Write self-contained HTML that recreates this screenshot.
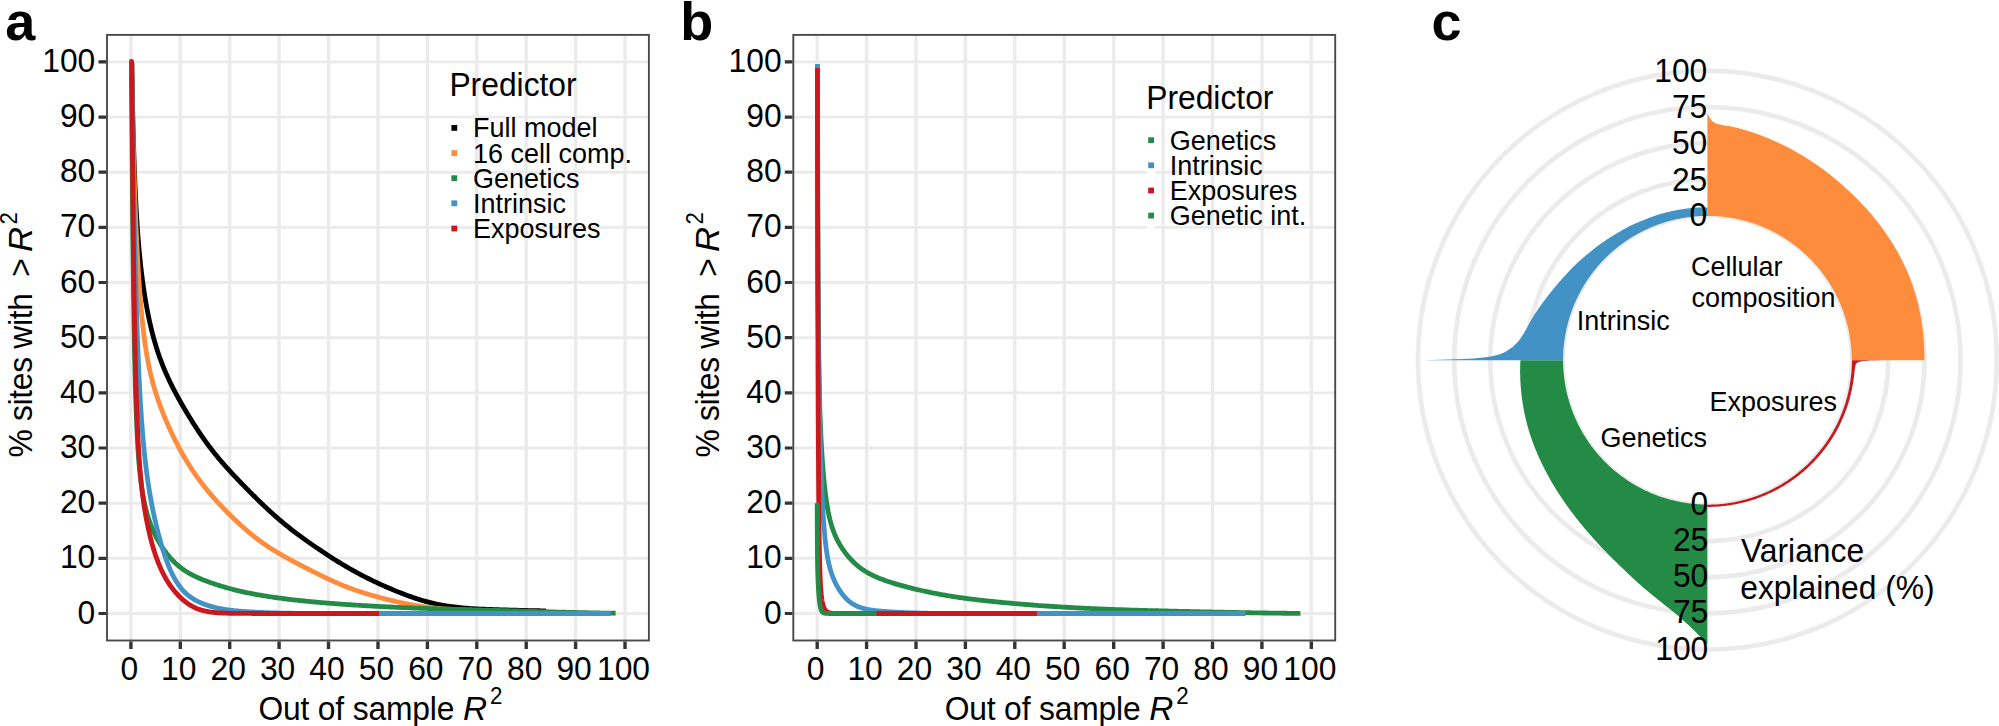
<!DOCTYPE html>
<html lang="en">
<head>
<meta charset="utf-8">
<title>Figure</title>
<style>
html,body{margin:0;padding:0;background:#fff;}
body{width:1999px;height:726px;overflow:hidden;}
svg{display:block;font-family:'Liberation Sans', Arial, Helvetica, sans-serif;}
</style>
</head>
<body>
<svg width="1999" height="726" viewBox="0 0 1999 726">
<rect width="1999" height="726" fill="#fff"/>
<!-- panel a -->
<rect x="107.0" y="34.9" width="541.9" height="605.6" fill="#fff"/>
<path d="M107.0,613.5 H648.9 M107.0,558.3 H648.9 M107.0,503.2 H648.9 M107.0,448.0 H648.9 M107.0,392.9 H648.9 M107.0,337.7 H648.9 M107.0,282.5 H648.9 M107.0,227.4 H648.9 M107.0,172.2 H648.9 M107.0,117.1 H648.9 M107.0,61.9 H648.9" stroke="#EBEBEB" stroke-width="2.9" fill="none"/>
<path d="M130.9,34.9 V640.5 M180.3,34.9 V640.5 M229.7,34.9 V640.5 M279.1,34.9 V640.5 M328.5,34.9 V640.5 M378.0,34.9 V640.5 M427.4,34.9 V640.5 M476.8,34.9 V640.5 M526.2,34.9 V640.5 M575.6,34.9 V640.5 M625.0,34.9 V640.5" stroke="#EBEBEB" stroke-width="3.4" fill="none"/>
<g fill="none" stroke-width="4.8" stroke-linejoin="round" stroke-linecap="butt">
<path d="M129.7,61.9 L131.64,61.90 L131.71,63.68 L131.71,64.11 L131.72,64.57 L131.73,65.06 L131.74,65.58 L131.75,66.14 L131.76,66.74 L131.77,67.36 L131.78,68.03 L131.80,68.73 L131.81,69.46 L131.82,70.24 L131.84,71.05 L131.85,71.90 L131.87,72.79 L131.89,73.72 L131.91,74.69 L131.93,75.70 L131.94,76.75 L131.97,77.84 L131.99,78.97 L132.01,80.15 L132.03,81.37 L132.06,82.62 L132.08,83.92 L132.11,85.26 L132.14,86.64 L132.17,88.07 L132.20,89.53 L132.23,91.03 L132.26,92.58 L132.29,94.16 L132.33,95.78 L132.36,97.45 L132.40,99.15 L132.44,100.88 L132.47,102.66 L132.52,104.47 L132.56,106.31 L132.60,108.19 L132.64,110.10 L132.69,112.05 L132.74,114.02 L132.78,116.03 L132.83,118.07 L132.89,120.13 L132.94,122.22 L132.99,124.34 L133.05,126.48 L133.10,128.65 L133.16,130.84 L133.22,133.05 L133.29,135.27 L133.35,137.52 L133.41,139.78 L133.48,142.06 L133.55,144.36 L133.62,146.66 L133.69,148.98 L133.76,151.31 L133.84,153.64 L133.91,155.99 L133.99,158.34 L134.07,160.69 L134.15,163.05 L134.24,165.41 L134.32,167.77 L134.41,170.13 L134.50,172.49 L134.59,174.85 L134.68,177.21 L134.78,179.56 L134.88,181.90 L134.98,184.24 L135.08,186.57 L135.18,188.89 L135.28,191.20 L135.39,193.50 L135.50,195.79 L135.61,198.07 L135.73,200.34 L135.84,202.59 L135.96,204.83 L136.08,207.06 L136.20,209.27 L136.33,211.47 L136.45,213.65 L136.58,215.82 L136.71,217.97 L136.85,220.10 L136.98,222.22 L137.12,224.32 L137.26,226.40 L137.40,228.47 L137.55,230.52 L137.70,232.55 L137.85,234.57 L138.00,236.57 L138.15,238.55 L138.31,240.52 L138.47,242.47 L138.63,244.40 L138.80,246.32 L138.97,248.22 L139.14,250.11 L139.31,251.98 L139.49,253.83 L139.66,255.68 L139.84,257.50 L140.03,259.31 L140.22,261.11 L140.40,262.89 L140.60,264.66 L140.79,266.42 L140.99,268.16 L141.19,269.89 L141.39,271.61 L141.60,273.32 L141.81,275.01 L142.02,276.69 L142.23,278.36 L142.45,280.02 L142.67,281.67 L142.89,283.31 L143.12,284.93 L143.35,286.55 L143.58,288.15 L143.82,289.75 L144.06,291.34 L144.30,292.91 L144.54,294.48 L144.79,296.03 L145.04,297.58 L145.30,299.12 L145.56,300.65 L145.82,302.17 L146.08,303.68 L146.35,305.18 L146.62,306.67 L146.89,308.16 L147.17,309.63 L147.45,311.10 L147.74,312.55 L148.02,314.00 L148.31,315.44 L148.61,316.87 L148.91,318.29 L149.21,319.71 L149.51,321.11 L149.82,322.50 L150.13,323.89 L150.45,325.27 L150.77,326.64 L151.09,328.00 L151.41,329.35 L151.74,330.69 L152.08,332.03 L152.41,333.35 L152.75,334.67 L153.10,335.97 L153.45,337.27 L153.80,338.56 L154.15,339.84 L154.51,341.12 L154.87,342.38 L155.24,343.64 L155.61,344.88 L155.99,346.12 L156.37,347.35 L156.75,348.58 L157.13,349.79 L157.52,351.00 L157.92,352.20 L158.32,353.39 L158.72,354.57 L159.12,355.75 L159.53,356.92 L159.95,358.08 L160.37,359.23 L160.79,360.38 L161.22,361.52 L161.65,362.65 L162.08,363.78 L162.52,364.91 L162.96,366.02 L163.41,367.13 L163.86,368.24 L164.32,369.34 L164.78,370.43 L165.24,371.53 L165.71,372.61 L166.19,373.69 L166.66,374.77 L167.15,375.85 L167.63,376.92 L168.12,377.99 L168.62,379.05 L169.12,380.11 L169.62,381.17 L170.13,382.23 L170.64,383.29 L171.16,384.34 L171.68,385.39 L172.21,386.44 L172.74,387.49 L173.28,388.54 L173.82,389.59 L174.36,390.64 L174.91,391.69 L175.47,392.74 L176.03,393.79 L176.59,394.84 L177.16,395.89 L177.74,396.94 L178.31,397.99 L178.90,399.04 L179.49,400.10 L180.08,401.16 L180.68,402.21 L181.28,403.27 L181.89,404.34 L182.50,405.40 L183.12,406.47 L183.74,407.54 L184.37,408.61 L185.00,409.68 L185.64,410.76 L186.28,411.84 L186.93,412.92 L187.58,414.00 L188.24,415.09 L188.90,416.17 L189.57,417.26 L190.25,418.36 L190.93,419.45 L191.61,420.55 L192.30,421.65 L192.99,422.75 L193.69,423.85 L194.40,424.95 L195.11,426.06 L195.82,427.16 L196.55,428.27 L197.27,429.38 L198.00,430.49 L198.74,431.59 L199.48,432.70 L200.23,433.81 L200.99,434.92 L201.75,436.02 L202.51,437.13 L203.28,438.23 L204.06,439.33 L204.84,440.43 L205.62,441.53 L206.42,442.63 L207.22,443.72 L208.02,444.81 L208.83,445.90 L209.64,446.99 L210.47,448.07 L211.29,449.15 L212.13,450.22 L212.96,451.30 L213.81,452.37 L214.66,453.43 L215.51,454.49 L216.38,455.55 L217.24,456.61 L218.12,457.67 L219.00,458.72 L219.88,459.77 L220.77,460.81 L221.67,461.86 L222.57,462.90 L223.48,463.94 L224.40,464.98 L225.32,466.02 L226.25,467.06 L227.18,468.10 L228.12,469.14 L229.07,470.18 L230.02,471.21 L230.98,472.25 L231.94,473.30 L232.91,474.34 L233.89,475.38 L234.87,476.43 L235.86,477.47 L236.86,478.52 L237.86,479.57 L238.87,480.63 L239.88,481.69 L240.90,482.74 L241.93,483.81 L242.96,484.87 L244.00,485.94 L245.05,487.01 L246.10,488.09 L247.16,489.16 L248.23,490.25 L249.30,491.33 L250.38,492.42 L251.47,493.51 L252.56,494.60 L253.66,495.69 L254.77,496.79 L255.88,497.89 L257.00,498.99 L258.12,500.09 L259.26,501.20 L260.40,502.30 L261.54,503.41 L262.70,504.51 L263.86,505.62 L265.02,506.73 L266.20,507.83 L267.38,508.93 L268.56,510.04 L269.76,511.14 L270.96,512.24 L272.17,513.33 L273.38,514.42 L274.60,515.51 L275.83,516.60 L277.07,517.68 L278.31,518.76 L279.56,519.83 L280.82,520.90 L282.08,521.96 L283.35,523.02 L284.63,524.08 L285.92,525.13 L287.21,526.17 L288.51,527.21 L289.82,528.25 L291.13,529.28 L292.45,530.31 L293.78,531.33 L295.12,532.35 L296.46,533.37 L297.81,534.38 L299.17,535.39 L300.54,536.40 L301.91,537.40 L303.29,538.41 L304.68,539.41 L306.08,540.41 L307.48,541.41 L308.89,542.40 L310.31,543.40 L311.73,544.39 L313.17,545.39 L314.61,546.38 L316.05,547.37 L317.51,548.36 L318.97,549.35 L320.44,550.34 L321.92,551.33 L323.41,552.32 L324.90,553.30 L326.41,554.29 L327.92,555.27 L329.43,556.25 L330.96,557.23 L332.49,558.21 L334.03,559.18 L335.58,560.16 L337.14,561.12 L338.70,562.09 L340.28,563.05 L341.86,564.00 L343.45,564.96 L345.04,565.90 L346.65,566.84 L348.26,567.78 L349.88,568.71 L351.51,569.63 L353.15,570.55 L354.79,571.46 L356.44,572.36 L358.10,573.26 L359.77,574.15 L361.45,575.04 L363.14,575.91 L364.83,576.78 L366.53,577.65 L368.24,578.51 L369.96,579.36 L371.69,580.20 L373.42,581.04 L375.17,581.87 L376.92,582.69 L378.68,583.51 L380.45,584.33 L382.23,585.13 L384.01,585.93 L385.81,586.73 L387.61,587.52 L389.42,588.30 L391.24,589.07 L393.07,589.84 L394.90,590.60 L396.75,591.35 L398.60,592.10 L400.46,592.84 L402.34,593.57 L404.22,594.28 L406.10,594.99 L408.00,595.69 L409.91,596.38 L411.82,597.05 L413.75,597.71 L415.68,598.35 L417.62,598.99 L419.57,599.60 L421.53,600.20 L423.49,600.78 L425.47,601.34 L427.46,601.88 L429.45,602.40 L431.45,602.90 L433.47,603.38 L435.49,603.84 L437.52,604.28 L439.56,604.69 L441.60,605.08 L443.66,605.45 L445.73,605.80 L447.80,606.13 L449.89,606.44 L451.98,606.72 L454.09,606.99 L456.20,607.24 L458.32,607.47 L460.45,607.68 L462.59,607.88 L464.74,608.06 L466.90,608.23 L469.06,608.39 L471.24,608.54 L473.43,608.68 L475.62,608.81 L477.83,608.93 L480.04,609.04 L482.27,609.14 L484.50,609.24 L486.74,609.34 L488.99,609.43 L491.26,609.52 L493.53,609.60 L495.81,609.68 L498.10,609.75 L500.40,609.82 L502.71,609.89 L505.03,609.96 L507.36,610.02 L509.69,610.09 L512.04,610.15 L514.40,610.21 L516.77,610.27 L519.14,610.32 L521.53,610.38 L523.93,610.43 L526.34,610.49 L528.75,610.54 L531.18,610.59 L533.61,610.64 L536.06,610.69 L538.52,610.74 L540.98,610.79 L543.46,610.83 L545.94,610.88" stroke="#000000"/>
<path d="M129.7,61.9 L131.64,61.90 L131.69,63.89 L131.70,64.34 L131.70,64.82 L131.71,65.34 L131.72,65.89 L131.72,66.48 L131.73,67.10 L131.74,67.76 L131.75,68.46 L131.76,69.19 L131.77,69.96 L131.78,70.77 L131.79,71.62 L131.81,72.50 L131.82,73.43 L131.83,74.39 L131.85,75.39 L131.86,76.43 L131.88,77.51 L131.89,78.63 L131.91,79.79 L131.93,80.98 L131.95,82.21 L131.97,83.48 L131.99,84.79 L132.01,86.14 L132.03,87.52 L132.05,88.93 L132.08,90.38 L132.10,91.87 L132.13,93.38 L132.16,94.93 L132.18,96.52 L132.21,98.13 L132.24,99.78 L132.27,101.46 L132.30,103.16 L132.34,104.90 L132.37,106.66 L132.40,108.45 L132.44,110.27 L132.48,112.11 L132.51,113.98 L132.55,115.88 L132.59,117.80 L132.64,119.74 L132.68,121.70 L132.72,123.69 L132.77,125.70 L132.81,127.73 L132.86,129.79 L132.91,131.86 L132.96,133.96 L133.01,136.07 L133.06,138.21 L133.12,140.36 L133.17,142.53 L133.23,144.73 L133.29,146.94 L133.35,149.17 L133.41,151.41 L133.47,153.68 L133.53,155.96 L133.60,158.26 L133.67,160.58 L133.73,162.91 L133.80,165.26 L133.88,167.62 L133.95,170.00 L134.02,172.40 L134.10,174.81 L134.18,177.24 L134.26,179.67 L134.34,182.13 L134.42,184.59 L134.50,187.07 L134.59,189.56 L134.68,192.06 L134.77,194.57 L134.86,197.09 L134.95,199.62 L135.04,202.16 L135.14,204.71 L135.24,207.26 L135.34,209.82 L135.44,212.39 L135.54,214.96 L135.65,217.53 L135.76,220.11 L135.87,222.68 L135.98,225.26 L136.09,227.84 L136.20,230.42 L136.32,233.00 L136.44,235.58 L136.56,238.15 L136.68,240.72 L136.81,243.28 L136.94,245.84 L137.07,248.38 L137.20,250.93 L137.33,253.46 L137.47,255.98 L137.60,258.49 L137.74,261.00 L137.89,263.48 L138.03,265.96 L138.18,268.42 L138.32,270.87 L138.48,273.30 L138.63,275.72 L138.78,278.12 L138.94,280.50 L139.10,282.87 L139.26,285.22 L139.43,287.54 L139.59,289.85 L139.76,292.14 L139.94,294.41 L140.11,296.65 L140.29,298.88 L140.46,301.08 L140.65,303.26 L140.83,305.42 L141.02,307.55 L141.20,309.66 L141.40,311.75 L141.59,313.82 L141.79,315.86 L141.98,317.87 L142.19,319.87 L142.39,321.83 L142.60,323.78 L142.81,325.70 L143.02,327.60 L143.23,329.47 L143.45,331.31 L143.67,333.14 L143.89,334.94 L144.12,336.72 L144.35,338.47 L144.58,340.20 L144.81,341.90 L145.05,343.59 L145.29,345.25 L145.53,346.89 L145.78,348.50 L146.02,350.10 L146.27,351.67 L146.53,353.22 L146.78,354.75 L147.04,356.26 L147.31,357.75 L147.57,359.22 L147.84,360.68 L148.11,362.11 L148.39,363.53 L148.66,364.92 L148.94,366.31 L149.23,367.67 L149.52,369.02 L149.80,370.35 L150.10,371.67 L150.39,372.97 L150.69,374.25 L151.00,375.53 L151.30,376.79 L151.61,378.04 L151.92,379.27 L152.24,380.49 L152.56,381.71 L152.88,382.91 L153.20,384.10 L153.53,385.28 L153.86,386.45 L154.20,387.61 L154.54,388.76 L154.88,389.91 L155.22,391.05 L155.57,392.18 L155.92,393.30 L156.28,394.42 L156.64,395.53 L157.00,396.63 L157.37,397.73 L157.73,398.83 L158.11,399.92 L158.48,401.01 L158.86,402.09 L159.25,403.17 L159.63,404.24 L160.02,405.32 L160.42,406.39 L160.82,407.45 L161.22,408.52 L161.62,409.58 L162.03,410.64 L162.44,411.70 L162.86,412.76 L163.28,413.82 L163.70,414.87 L164.13,415.93 L164.56,416.98 L165.00,418.04 L165.44,419.09 L165.88,420.14 L166.33,421.19 L166.78,422.25 L167.23,423.30 L167.69,424.35 L168.15,425.40 L168.62,426.45 L169.09,427.50 L169.56,428.55 L170.04,429.60 L170.52,430.65 L171.01,431.70 L171.50,432.74 L171.99,433.79 L172.49,434.84 L172.99,435.89 L173.50,436.93 L174.01,437.98 L174.52,439.02 L175.04,440.07 L175.57,441.11 L176.09,442.15 L176.62,443.19 L177.16,444.23 L177.70,445.26 L178.24,446.30 L178.79,447.33 L179.34,448.37 L179.90,449.40 L180.46,450.42 L181.03,451.45 L181.60,452.48 L182.17,453.50 L182.75,454.52 L183.33,455.53 L183.92,456.55 L184.51,457.56 L185.11,458.57 L185.71,459.58 L186.31,460.58 L186.92,461.59 L187.54,462.59 L188.16,463.58 L188.78,464.58 L189.41,465.57 L190.04,466.56 L190.68,467.54 L191.32,468.52 L191.97,469.50 L192.62,470.48 L193.27,471.45 L193.93,472.42 L194.60,473.39 L195.27,474.36 L195.94,475.32 L196.62,476.28 L197.30,477.24 L197.99,478.19 L198.69,479.14 L199.39,480.09 L200.09,481.04 L200.80,481.98 L201.51,482.92 L202.23,483.86 L202.95,484.79 L203.68,485.73 L204.41,486.66 L205.15,487.59 L205.89,488.51 L206.64,489.44 L207.39,490.36 L208.15,491.27 L208.91,492.19 L209.68,493.11 L210.45,494.02 L211.23,494.93 L212.01,495.84 L212.80,496.74 L213.59,497.65 L214.39,498.55 L215.19,499.45 L216.00,500.35 L216.82,501.25 L217.64,502.15 L218.46,503.04 L219.29,503.94 L220.12,504.83 L220.96,505.72 L221.81,506.62 L222.66,507.51 L223.52,508.40 L224.38,509.29 L225.24,510.17 L226.12,511.06 L226.99,511.95 L227.88,512.84 L228.76,513.72 L229.66,514.61 L230.56,515.50 L231.46,516.38 L232.37,517.26 L233.29,518.15 L234.21,519.03 L235.14,519.91 L236.07,520.80 L237.01,521.68 L237.95,522.56 L238.90,523.43 L239.85,524.31 L240.81,525.18 L241.78,526.06 L242.75,526.93 L243.73,527.80 L244.71,528.66 L245.70,529.52 L246.70,530.38 L247.70,531.24 L248.70,532.09 L249.72,532.94 L250.73,533.78 L251.76,534.62 L252.79,535.45 L253.82,536.28 L254.86,537.10 L255.91,537.92 L256.96,538.73 L258.02,539.53 L259.09,540.33 L260.16,541.12 L261.24,541.90 L262.32,542.68 L263.41,543.45 L264.50,544.22 L265.60,544.97 L266.71,545.72 L267.82,546.47 L268.94,547.20 L270.07,547.93 L271.20,548.66 L272.34,549.38 L273.48,550.09 L274.63,550.80 L275.79,551.50 L276.95,552.20 L278.12,552.89 L279.29,553.58 L280.48,554.27 L281.66,554.95 L282.86,555.63 L284.06,556.31 L285.26,556.98 L286.48,557.66 L287.70,558.33 L288.92,559.00 L290.15,559.67 L291.39,560.34 L292.64,561.01 L293.89,561.68 L295.15,562.35 L296.41,563.02 L297.68,563.69 L298.96,564.36 L300.24,565.03 L301.53,565.70 L302.83,566.37 L304.13,567.05 L305.44,567.72 L306.76,568.40 L308.08,569.07 L309.41,569.75 L310.75,570.43 L312.09,571.11 L313.44,571.79 L314.80,572.47 L316.16,573.15 L317.53,573.83 L318.91,574.51 L320.29,575.19 L321.68,575.86 L323.08,576.54 L324.48,577.22 L325.90,577.89 L327.31,578.56 L328.74,579.23 L330.17,579.89 L331.61,580.55 L333.05,581.21 L334.51,581.86 L335.97,582.50 L337.43,583.14 L338.91,583.77 L340.39,584.40 L341.87,585.02 L343.37,585.63 L344.87,586.23 L346.38,586.83 L347.89,587.41 L349.42,587.99 L350.95,588.56 L352.48,589.12 L354.03,589.68 L355.58,590.22 L357.14,590.76 L358.71,591.29 L360.28,591.81 L361.86,592.32 L363.45,592.83 L365.04,593.33 L366.64,593.82 L368.25,594.30 L369.87,594.78 L371.49,595.25 L373.13,595.72 L374.77,596.18 L376.41,596.64 L378.07,597.09 L379.73,597.53 L381.40,597.97 L383.07,598.41 L384.76,598.84 L386.45,599.27 L388.15,599.69 L389.85,600.10 L391.57,600.52 L393.29,600.92 L395.02,601.32 L396.75,601.72 L398.50,602.10 L400.25,602.49 L402.01,602.86 L403.77,603.23 L405.55,603.59 L407.33,603.94 L409.12,604.29 L410.92,604.63 L412.73,604.95 L414.54,605.27 L416.36,605.58 L418.19,605.88 L420.03,606.17 L421.87,606.45 L423.72,606.71 L425.58,606.97 L427.45,607.22 L429.33,607.45 L431.21,607.68 L433.10,607.89 L435.00,608.09 L436.91,608.29 L438.83,608.47 L440.75,608.64 L442.68,608.80 L444.62,608.95 L446.57,609.10 L448.53,609.23 L450.49,609.36 L452.46,609.47 L454.45,609.58 L456.43,609.68 L458.43,609.78 L460.44,609.87 L462.45,609.95 L464.47,610.03 L466.50,610.10 L468.54,610.17 L470.58,610.24 L472.64,610.29 L474.70,610.35 L476.77,610.40" stroke="#FD8D3C"/>
<path d="M129.7,61.9 L131.39,61.90 L131.55,64.06 L131.56,66.40 L131.58,68.87 L131.59,71.46 L131.61,74.17 L131.63,77.01 L131.64,79.97 L131.66,83.07 L131.68,86.28 L131.70,89.63 L131.73,93.10 L131.75,96.70 L131.77,100.43 L131.80,104.27 L131.83,108.24 L131.85,112.34 L131.88,116.55 L131.91,120.88 L131.94,125.32 L131.97,129.87 L132.01,134.54 L132.04,139.31 L132.08,144.18 L132.12,149.15 L132.15,154.22 L132.19,159.37 L132.24,164.61 L132.28,169.94 L132.32,175.34 L132.37,180.81 L132.42,186.35 L132.46,191.94 L132.51,197.60 L132.57,203.31 L132.62,209.06 L132.67,214.84 L132.73,220.67 L132.79,226.52 L132.85,232.39 L132.91,238.27 L132.97,244.17 L133.04,250.06 L133.10,255.96 L133.17,261.84 L133.24,267.71 L133.32,273.57 L133.39,279.39 L133.47,285.19 L133.54,290.94 L133.62,296.66 L133.70,302.33 L133.79,307.94 L133.87,313.50 L133.96,319.00 L134.05,324.44 L134.14,329.80 L134.24,335.09 L134.33,340.31 L134.43,345.44 L134.53,350.49 L134.63,355.46 L134.74,360.34 L134.84,365.12 L134.95,369.82 L135.06,374.42 L135.18,378.92 L135.29,383.33 L135.41,387.64 L135.53,391.86 L135.65,395.97 L135.78,399.99 L135.91,403.90 L136.04,407.72 L136.17,411.44 L136.30,415.06 L136.44,418.59 L136.58,422.02 L136.72,425.35 L136.87,428.60 L137.02,431.75 L137.17,434.81 L137.32,437.79 L137.48,440.68 L137.64,443.49 L137.80,446.21 L137.96,448.86 L138.13,451.43 L138.30,453.92 L138.47,456.34 L138.65,458.69 L138.82,460.98 L139.01,463.19 L139.19,465.35 L139.38,467.44 L139.57,469.47 L139.76,471.45 L139.96,473.38 L140.16,475.25 L140.36,477.07 L140.56,478.84 L140.77,480.57 L140.98,482.26 L141.20,483.90 L141.41,485.50 L141.64,487.07 L141.86,488.60 L142.09,490.09 L142.32,491.55 L142.55,492.98 L142.79,494.38 L143.03,495.74 L143.27,497.09 L143.52,498.40 L143.77,499.69 L144.03,500.95 L144.29,502.20 L144.55,503.41 L144.81,504.61 L145.08,505.79 L145.35,506.95 L145.63,508.09 L145.91,509.21 L146.19,510.31 L146.48,511.40 L146.77,512.47 L147.06,513.52 L147.36,514.56 L147.66,515.58 L147.96,516.59 L148.27,517.59 L148.58,518.58 L148.90,519.55 L149.22,520.51 L149.54,521.45 L149.87,522.39 L150.20,523.31 L150.54,524.23 L150.88,525.13 L151.22,526.02 L151.57,526.90 L151.92,527.78 L152.28,528.64 L152.64,529.49 L153.00,530.34 L153.37,531.18 L153.75,532.00 L154.12,532.82 L154.50,533.64 L154.89,534.44 L155.28,535.24 L155.67,536.03 L156.07,536.81 L156.47,537.59 L156.88,538.36 L157.29,539.12 L157.70,539.88 L158.12,540.63 L158.55,541.38 L158.98,542.11 L159.41,542.85 L159.85,543.58 L160.29,544.30 L160.74,545.01 L161.19,545.73 L161.64,546.43 L162.11,547.13 L162.57,547.83 L163.04,548.52 L163.52,549.21 L163.99,549.89 L164.48,550.56 L164.97,551.23 L165.46,551.90 L165.96,552.56 L166.46,553.21 L166.97,553.86 L167.48,554.50 L168.00,555.14 L168.53,555.78 L169.05,556.40 L169.59,557.02 L170.12,557.64 L170.67,558.25 L171.22,558.86 L171.77,559.45 L172.33,560.05 L172.89,560.63 L173.46,561.21 L174.03,561.78 L174.61,562.35 L175.20,562.91 L175.78,563.46 L176.38,564.01 L176.98,564.55 L177.58,565.08 L178.19,565.60 L178.81,566.12 L179.43,566.63 L180.06,567.13 L180.69,567.63 L181.33,568.12 L181.97,568.60 L182.62,569.07 L183.27,569.54 L183.93,570.00 L184.60,570.45 L185.27,570.89 L185.94,571.33 L186.63,571.76 L187.31,572.19 L188.01,572.60 L188.71,573.01 L189.41,573.42 L190.12,573.82 L190.84,574.21 L191.56,574.60 L192.29,574.98 L193.02,575.35 L193.76,575.72 L194.50,576.09 L195.26,576.45 L196.01,576.81 L196.78,577.16 L197.55,577.51 L198.32,577.85 L199.10,578.19 L199.89,578.53 L200.68,578.86 L201.48,579.19 L202.29,579.52 L203.10,579.85 L203.92,580.17 L204.74,580.49 L205.57,580.81 L206.41,581.12 L207.25,581.44 L208.10,581.75 L208.96,582.06 L209.82,582.37 L210.69,582.67 L211.56,582.98 L212.44,583.28 L213.33,583.58 L214.22,583.88 L215.12,584.18 L216.03,584.48 L216.94,584.78 L217.86,585.07 L218.79,585.37 L219.72,585.66 L220.66,585.95 L221.61,586.24 L222.56,586.53 L223.52,586.81 L224.49,587.10 L225.46,587.38 L226.44,587.66 L227.43,587.94 L228.42,588.22 L229.42,588.49 L230.43,588.76 L231.44,589.03 L232.46,589.30 L233.49,589.56 L234.52,589.83 L235.57,590.09 L236.62,590.35 L237.67,590.60 L238.73,590.85 L239.80,591.10 L240.88,591.35 L241.96,591.59 L243.06,591.84 L244.15,592.07 L245.26,592.31 L246.37,592.55 L247.49,592.78 L248.62,593.01 L249.75,593.23 L250.90,593.46 L252.04,593.68 L253.20,593.90 L254.36,594.11 L255.54,594.33 L256.71,594.54 L257.90,594.75 L259.09,594.96 L260.29,595.17 L261.50,595.37 L262.72,595.58 L263.94,595.78 L265.17,595.98 L266.41,596.17 L267.66,596.37 L268.91,596.56 L270.17,596.75 L271.44,596.94 L272.72,597.13 L274.01,597.32 L275.30,597.50 L276.60,597.69 L277.91,597.87 L279.22,598.05 L280.55,598.23 L281.88,598.40 L283.22,598.58 L284.56,598.75 L285.92,598.92 L287.28,599.09 L288.66,599.26 L290.03,599.43 L291.42,599.59 L292.82,599.76 L294.22,599.92 L295.63,600.08 L297.05,600.24 L298.48,600.39 L299.92,600.55 L301.36,600.70 L302.81,600.85 L304.28,601.00 L305.75,601.15 L307.22,601.30 L308.71,601.45 L310.20,601.59 L311.71,601.73 L313.22,601.87 L314.74,602.01 L316.26,602.15 L317.80,602.29 L319.34,602.42 L320.90,602.56 L322.46,602.69 L324.03,602.82 L325.61,602.95 L327.20,603.08 L328.79,603.21 L330.40,603.33 L332.01,603.46 L333.63,603.58 L335.26,603.71 L336.90,603.83 L338.55,603.95 L340.21,604.07 L341.88,604.19 L343.55,604.30 L345.23,604.42 L346.93,604.54 L348.63,604.65 L350.34,604.76 L352.06,604.88 L353.79,604.99 L355.52,605.10 L357.27,605.21 L359.03,605.32 L360.79,605.42 L362.56,605.53 L364.35,605.64 L366.14,605.74 L367.94,605.85 L369.75,605.95 L371.57,606.05 L373.40,606.15 L375.24,606.25 L377.08,606.35 L378.94,606.45 L380.81,606.55 L382.68,606.64 L384.57,606.74 L386.46,606.83 L388.36,606.93 L390.28,607.02 L392.20,607.11 L394.13,607.20 L396.07,607.29 L398.02,607.37 L399.98,607.46 L401.95,607.54 L403.93,607.63 L405.92,607.71 L407.92,607.79 L409.93,607.87 L411.95,607.95 L413.98,608.03 L416.02,608.10 L418.06,608.18 L420.12,608.25 L422.19,608.32 L424.27,608.39 L426.35,608.46 L428.45,608.53 L430.56,608.60 L432.67,608.67 L434.80,608.73 L436.94,608.80 L439.08,608.86 L441.24,608.93 L443.41,608.99 L445.58,609.05 L447.77,609.12 L449.97,609.18 L452.17,609.24 L454.39,609.30 L456.62,609.37 L458.86,609.43 L461.10,609.49 L463.36,609.55 L465.63,609.61 L467.91,609.68 L470.20,609.74 L472.50,609.80 L474.81,609.86 L477.13,609.93 L479.46,609.99 L481.80,610.05 L484.15,610.11 L486.52,610.18 L488.89,610.24 L491.27,610.31 L493.67,610.37 L496.07,610.43 L498.48,610.50 L500.91,610.56 L503.35,610.63 L505.79,610.69 L508.25,610.76 L510.72,610.82 L513.20,610.89 L515.69,610.95 L518.19,611.02 L520.70,611.09 L523.22,611.15 L525.76,611.22 L528.30,611.29 L530.86,611.35 L533.42,611.42 L536.00,611.49 L538.59,611.56 L541.19,611.62 L543.80,611.69 L546.42,611.76 L549.05,611.83 L551.69,611.90 L554.35,611.96 L557.02,612.03 L559.69,612.10 L562.38,612.17 L565.08,612.24 L567.79,612.30 L570.51,612.37 L573.24,612.44 L575.99,612.50 L578.74,612.57 L581.51,612.63 L584.29,612.70 L587.08,612.76 L589.88,612.82 L592.69,612.88 L595.52,612.93 L598.35,612.99 L601.20,613.04 L604.06,613.09 L606.93,613.13 L609.81,613.17 L612.71,613.21 L615.61,613.24" stroke="#238B45"/>
<path d="M129.7,61.9 L131.64,61.90 L131.81,64.45 L131.82,65.62 L131.84,66.85 L131.85,68.14 L131.87,69.50 L131.89,70.93 L131.91,72.42 L131.93,73.99 L131.95,75.62 L131.97,77.32 L131.99,79.09 L132.02,80.94 L132.04,82.86 L132.07,84.85 L132.09,86.91 L132.12,89.05 L132.15,91.27 L132.18,93.55 L132.22,95.92 L132.25,98.35 L132.28,100.87 L132.32,103.45 L132.36,106.12 L132.39,108.85 L132.43,111.66 L132.47,114.55 L132.52,117.51 L132.56,120.54 L132.61,123.64 L132.65,126.81 L132.70,130.05 L132.75,133.36 L132.80,136.74 L132.85,140.19 L132.91,143.70 L132.96,147.28 L133.02,150.92 L133.08,154.62 L133.14,158.37 L133.20,162.19 L133.27,166.06 L133.33,169.99 L133.40,173.97 L133.47,178.00 L133.54,182.07 L133.62,186.19 L133.69,190.36 L133.77,194.57 L133.85,198.81 L133.93,203.10 L134.01,207.41 L134.09,211.76 L134.18,216.14 L134.27,220.54 L134.36,224.97 L134.45,229.42 L134.55,233.89 L134.64,238.37 L134.74,242.87 L134.84,247.38 L134.95,251.90 L135.05,256.42 L135.16,260.94 L135.27,265.47 L135.38,269.99 L135.50,274.51 L135.61,279.02 L135.73,283.52 L135.85,288.00 L135.98,292.48 L136.10,296.93 L136.23,301.36 L136.36,305.78 L136.50,310.16 L136.63,314.52 L136.77,318.86 L136.91,323.16 L137.06,327.43 L137.20,331.66 L137.35,335.86 L137.50,340.02 L137.66,344.14 L137.82,348.22 L137.98,352.26 L138.14,356.25 L138.30,360.20 L138.47,364.10 L138.64,367.96 L138.82,371.76 L138.99,375.52 L139.17,379.23 L139.35,382.88 L139.54,386.49 L139.73,390.04 L139.92,393.54 L140.11,396.99 L140.31,400.39 L140.51,403.74 L140.71,407.03 L140.92,410.27 L141.13,413.46 L141.34,416.59 L141.55,419.68 L141.77,422.71 L142.00,425.69 L142.22,428.63 L142.45,431.51 L142.68,434.35 L142.91,437.13 L143.15,439.87 L143.39,442.57 L143.64,445.22 L143.89,447.82 L144.14,450.38 L144.39,452.90 L144.65,455.37 L144.91,457.81 L145.18,460.21 L145.45,462.57 L145.72,464.89 L146.00,467.18 L146.28,469.43 L146.56,471.65 L146.85,473.84 L147.14,475.99 L147.43,478.12 L147.73,480.22 L148.03,482.29 L148.34,484.33 L148.65,486.35 L148.96,488.35 L149.28,490.32 L149.60,492.27 L149.92,494.20 L150.25,496.10 L150.58,497.99 L150.92,499.86 L151.26,501.72 L151.60,503.55 L151.95,505.37 L152.30,507.18 L152.66,508.97 L153.02,510.75 L153.38,512.51 L153.75,514.26 L154.13,516.00 L154.50,517.72 L154.88,519.44 L155.27,521.14 L155.66,522.83 L156.05,524.51 L156.45,526.18 L156.85,527.84 L157.26,529.49 L157.67,531.13 L158.08,532.76 L158.50,534.37 L158.93,535.98 L159.36,537.57 L159.79,539.16 L160.23,540.73 L160.67,542.29 L161.12,543.83 L161.57,545.37 L162.02,546.89 L162.48,548.40 L162.95,549.89 L163.42,551.37 L163.89,552.83 L164.37,554.28 L164.86,555.72 L165.34,557.13 L165.84,558.53 L166.33,559.91 L166.84,561.28 L167.35,562.62 L167.86,563.94 L168.38,565.25 L168.90,566.53 L169.42,567.80 L169.96,569.04 L170.49,570.26 L171.04,571.45 L171.58,572.63 L172.14,573.78 L172.69,574.91 L173.25,576.01 L173.82,577.10 L174.40,578.15 L174.97,579.18 L175.56,580.19 L176.14,581.18 L176.74,582.14 L177.34,583.07 L177.94,583.98 L178.55,584.87 L179.16,585.73 L179.78,586.57 L180.41,587.38 L181.04,588.17 L181.68,588.94 L182.32,589.69 L182.96,590.41 L183.62,591.12 L184.27,591.80 L184.94,592.46 L185.61,593.10 L186.28,593.72 L186.96,594.32 L187.65,594.90 L188.34,595.47 L189.04,596.02 L189.74,596.55 L190.45,597.06 L191.16,597.56 L191.88,598.05 L192.61,598.52 L193.34,598.97 L194.08,599.41 L194.82,599.84 L195.57,600.26 L196.32,600.67 L197.08,601.06 L197.85,601.44 L198.62,601.82 L199.40,602.18 L200.19,602.53 L200.98,602.88 L201.78,603.21 L202.58,603.54 L203.39,603.85 L204.20,604.16 L205.02,604.46 L205.85,604.76 L206.69,605.04 L207.53,605.32 L208.37,605.60 L209.22,605.86 L210.08,606.12 L210.95,606.37 L211.82,606.61 L212.70,606.85 L213.58,607.08 L214.47,607.31 L215.37,607.53 L216.27,607.74 L217.18,607.95 L218.10,608.14 L219.02,608.34 L219.95,608.53 L220.89,608.71 L221.83,608.88 L222.78,609.05 L223.74,609.21 L224.70,609.37 L225.67,609.52 L226.64,609.67 L227.63,609.81 L228.62,609.95 L229.61,610.08 L230.62,610.21 L231.63,610.33 L232.64,610.44 L233.67,610.56 L234.70,610.67 L235.73,610.77 L236.78,610.87 L237.83,610.97 L238.89,611.06 L239.95,611.16 L241.03,611.24 L242.11,611.33 L243.19,611.41 L244.29,611.49 L245.39,611.57 L246.50,611.64 L247.61,611.72 L248.73,611.79 L249.86,611.86 L251.00,611.93 L252.14,611.99 L253.29,612.05 L254.45,612.12 L255.62,612.18 L256.79,612.24 L257.97,612.29 L259.16,612.35 L260.36,612.40 L261.56,612.46 L262.77,612.51 L263.99,612.56 L265.21,612.61 L266.45,612.65 L267.69,612.70 L268.93,612.74 L270.19,612.79 L271.45,612.83 L272.72,612.87 L274.00,612.90 L275.29,612.94 L276.58,612.98 L277.89,613.01 L279.20,613.04 L280.51,613.07 L281.84,613.10 L283.17,613.13 L284.51,613.15 L285.86,613.18 L287.22,613.20 L288.58,613.22 L289.95,613.24 L291.34,613.26 L292.72,613.28 L294.12,613.30 L295.53,613.32 L296.94,613.33 L298.36,613.34 L299.79,613.36 L301.23,613.37 L302.67,613.38 L304.12,613.39 L305.59,613.40 L307.06,613.41 L308.53,613.42 L310.02,613.42 L311.52,613.43 L313.02,613.44 L314.53,613.44 L316.05,613.45 L317.58,613.45 L319.11,613.46 L320.66,613.46 L322.21,613.47 L323.78,613.47 L325.35,613.47 L326.92,613.47 L328.51,613.48 L330.11,613.48 L331.71,613.48 L333.33,613.48 L334.95,613.48 L336.58,613.49 L338.22,613.49 L339.87,613.49 L341.52,613.49 L343.19,613.49 L344.87,613.49 L346.55,613.49 L348.24,613.49 L349.94,613.49 L351.65,613.49 L353.37,613.49 L355.10,613.50 L356.83,613.50 L358.58,613.50 L360.34,613.50 L362.10,613.50 L363.87,613.50 L365.65,613.50 L367.44,613.50 L369.24,613.50 L371.05,613.50 L372.87,613.50 L374.70,613.50 L376.54,613.50 L378.38,613.50 L380.24,613.50 L382.10,613.50 L383.98,613.50 L385.86,613.50 L387.75,613.50 L389.65,613.50 L391.56,613.50 L393.48,613.50 L395.41,613.50 L397.35,613.50 L399.30,613.50 L401.26,613.50 L403.23,613.50 L405.21,613.50 L407.19,613.50 L409.19,613.50 L411.20,613.50 L413.21,613.50 L415.24,613.50 L417.27,613.50 L419.32,613.50 L421.37,613.50 L423.44,613.50 L425.51,613.50 L427.60,613.50 L429.69,613.50 L431.80,613.50 L433.91,613.50 L436.03,613.50 L438.17,613.50 L440.31,613.50 L442.46,613.50 L444.63,613.50 L446.80,613.50 L448.98,613.50 L451.18,613.50 L453.38,613.50 L455.60,613.50 L457.82,613.50 L460.05,613.50 L462.30,613.50 L464.55,613.50 L466.82,613.50 L469.09,613.50 L471.38,613.50 L473.67,613.50 L475.98,613.50 L478.29,613.50 L480.62,613.50 L482.96,613.50 L485.30,613.50 L487.66,613.50 L490.03,613.50 L492.41,613.50 L494.80,613.50 L497.20,613.50 L499.61,613.50 L502.03,613.50 L504.46,613.50 L506.90,613.50 L509.36,613.50 L511.82,613.50 L514.29,613.50 L516.78,613.50 L519.27,613.50 L521.78,613.50 L524.30,613.50 L526.82,613.50 L529.36,613.50 L531.91,613.50 L534.47,613.50 L537.04,613.50 L539.63,613.50 L542.22,613.50 L544.82,613.50 L547.44,613.50 L550.06,613.50 L552.70,613.50 L555.35,613.50 L558.01,613.50 L560.68,613.50 L563.36,613.50 L566.05,613.50 L568.76,613.50 L571.47,613.50 L574.20,613.50 L576.94,613.50 L579.68,613.50 L582.44,613.50 L585.22,613.50 L588.00,613.50 L590.79,613.50 L593.60,613.50 L596.42,613.50 L599.24,613.50 L602.08,613.50 L604.93,613.50 L607.80,613.50 L610.67,613.50" stroke="#4292C6"/>
<path d="M129.7,61.9 L131.64,61.90 L131.82,63.56 L131.83,65.42 L131.85,67.36 L131.86,69.37 L131.88,71.45 L131.89,73.61 L131.91,75.85 L131.92,78.16 L131.94,80.55 L131.95,83.01 L131.97,85.55 L131.99,88.17 L132.01,90.86 L132.03,93.63 L132.05,96.47 L132.07,99.39 L132.09,102.39 L132.12,105.45 L132.14,108.59 L132.16,111.81 L132.19,115.09 L132.21,118.44 L132.24,121.87 L132.27,125.36 L132.29,128.92 L132.32,132.55 L132.35,136.24 L132.38,139.99 L132.42,143.80 L132.45,147.68 L132.48,151.61 L132.51,155.59 L132.55,159.63 L132.59,163.73 L132.62,167.87 L132.66,172.06 L132.70,176.30 L132.74,180.57 L132.78,184.89 L132.82,189.25 L132.86,193.65 L132.91,198.07 L132.95,202.53 L133.00,207.02 L133.04,211.53 L133.09,216.07 L133.14,220.62 L133.19,225.20 L133.24,229.79 L133.29,234.39 L133.35,239.00 L133.40,243.61 L133.46,248.24 L133.51,252.86 L133.57,257.48 L133.63,262.09 L133.69,266.70 L133.75,271.31 L133.82,275.89 L133.88,280.47 L133.95,285.02 L134.01,289.56 L134.08,294.08 L134.15,298.57 L134.22,303.03 L134.29,307.46 L134.36,311.87 L134.44,316.24 L134.51,320.57 L134.59,324.87 L134.67,329.13 L134.75,333.34 L134.83,337.52 L134.91,341.65 L135.00,345.73 L135.08,349.77 L135.17,353.75 L135.26,357.69 L135.34,361.58 L135.44,365.41 L135.53,369.19 L135.62,372.92 L135.72,376.59 L135.82,380.20 L135.91,383.76 L136.01,387.26 L136.12,390.71 L136.22,394.10 L136.32,397.43 L136.43,400.70 L136.54,403.92 L136.65,407.08 L136.76,410.18 L136.87,413.22 L136.99,416.21 L137.10,419.13 L137.22,422.01 L137.34,424.82 L137.46,427.59 L137.58,430.29 L137.71,432.95 L137.84,435.55 L137.96,438.10 L138.09,440.59 L138.22,443.04 L138.36,445.44 L138.49,447.79 L138.63,450.09 L138.77,452.34 L138.91,454.55 L139.05,456.72 L139.20,458.84 L139.34,460.92 L139.49,462.96 L139.64,464.95 L139.79,466.91 L139.95,468.84 L140.10,470.72 L140.26,472.57 L140.42,474.39 L140.58,476.18 L140.75,477.93 L140.91,479.65 L141.08,481.34 L141.25,483.00 L141.42,484.64 L141.59,486.25 L141.77,487.83 L141.95,489.39 L142.13,490.93 L142.31,492.44 L142.49,493.93 L142.68,495.40 L142.87,496.85 L143.06,498.29 L143.25,499.70 L143.44,501.10 L143.64,502.48 L143.84,503.84 L144.04,505.19 L144.24,506.52 L144.45,507.84 L144.66,509.14 L144.87,510.43 L145.08,511.71 L145.29,512.98 L145.51,514.23 L145.73,515.47 L145.95,516.71 L146.17,517.93 L146.40,519.14 L146.63,520.34 L146.86,521.53 L147.09,522.71 L147.33,523.88 L147.56,525.05 L147.80,526.20 L148.05,527.35 L148.29,528.48 L148.54,529.61 L148.79,530.73 L149.04,531.84 L149.29,532.94 L149.55,534.04 L149.81,535.13 L150.07,536.21 L150.34,537.28 L150.60,538.34 L150.87,539.39 L151.15,540.44 L151.42,541.48 L151.70,542.51 L151.98,543.53 L152.26,544.55 L152.55,545.56 L152.83,546.56 L153.12,547.55 L153.42,548.53 L153.71,549.51 L154.01,550.47 L154.31,551.43 L154.62,552.38 L154.92,553.32 L155.23,554.26 L155.54,555.18 L155.86,556.10 L156.17,557.01 L156.49,557.91 L156.82,558.81 L157.14,559.69 L157.47,560.57 L157.80,561.43 L158.14,562.29 L158.47,563.15 L158.81,563.99 L159.15,564.82 L159.50,565.65 L159.85,566.47 L160.20,567.28 L160.55,568.08 L160.91,568.88 L161.27,569.66 L161.63,570.44 L162.00,571.21 L162.37,571.97 L162.74,572.73 L163.11,573.48 L163.49,574.22 L163.87,574.95 L164.26,575.67 L164.64,576.39 L165.03,577.10 L165.43,577.80 L165.82,578.50 L166.22,579.18 L166.62,579.86 L167.03,580.54 L167.44,581.21 L167.85,581.87 L168.26,582.52 L168.68,583.17 L169.10,583.81 L169.52,584.44 L169.95,585.07 L170.38,585.69 L170.82,586.30 L171.25,586.91 L171.69,587.51 L172.14,588.10 L172.58,588.69 L173.03,589.28 L173.49,589.85 L173.94,590.42 L174.40,590.99 L174.87,591.54 L175.33,592.10 L175.80,592.64 L176.28,593.18 L176.75,593.72 L177.23,594.24 L177.71,594.77 L178.20,595.28 L178.69,595.79 L179.19,596.29 L179.68,596.79 L180.18,597.28 L180.69,597.76 L181.19,598.24 L181.70,598.71 L182.22,599.17 L182.74,599.63 L183.26,600.08 L183.78,600.52 L184.31,600.95 L184.84,601.38 L185.38,601.80 L185.92,602.21 L186.46,602.62 L187.01,603.01 L187.56,603.40 L188.11,603.79 L188.67,604.16 L189.23,604.52 L189.79,604.88 L190.36,605.23 L190.93,605.57 L191.51,605.90 L192.09,606.23 L192.67,606.54 L193.26,606.85 L193.85,607.14 L194.44,607.43 L195.04,607.71 L195.64,607.98 L196.25,608.25 L196.86,608.50 L197.47,608.75 L198.09,608.98 L198.71,609.21 L199.34,609.43 L199.96,609.64 L200.60,609.85 L201.23,610.04 L201.87,610.23 L202.52,610.41 L203.17,610.58 L203.82,610.75 L204.47,610.90 L205.13,611.05 L205.80,611.20 L206.47,611.33 L207.14,611.46 L207.82,611.59 L208.50,611.70 L209.18,611.81 L209.87,611.92 L210.56,612.02 L211.26,612.11 L211.96,612.20 L212.66,612.29 L213.37,612.37 L214.08,612.44 L214.80,612.51 L215.52,612.58 L216.25,612.64 L216.98,612.70 L217.71,612.75 L218.45,612.81 L219.19,612.86 L219.93,612.90 L220.68,612.94 L221.44,612.98 L222.20,613.02 L222.96,613.06 L223.73,613.09 L224.50,613.12 L225.28,613.15 L226.06,613.17 L226.84,613.20 L227.63,613.22 L228.42,613.24 L229.22,613.26 L230.02,613.28 L230.83,613.30 L231.64,613.31 L232.46,613.33 L233.28,613.34 L234.10,613.35 L234.93,613.37 L235.76,613.38 L236.60,613.39 L237.44,613.40 L238.29,613.40 L239.14,613.41 L239.99,613.42 L240.85,613.43 L241.72,613.43 L242.59,613.44 L243.46,613.44 L244.34,613.45 L245.22,613.45 L246.11,613.46 L247.00,613.46 L247.90,613.46 L248.80,613.47 L249.70,613.47 L250.61,613.47 L251.53,613.47 L252.45,613.48 L253.37,613.48 L254.30,613.48 L255.24,613.48 L256.18,613.48 L257.12,613.49 L258.07,613.49 L259.02,613.49 L259.98,613.49 L260.94,613.49 L261.91,613.49 L262.88,613.49 L263.86,613.49 L264.84,613.49 L265.83,613.49 L266.82,613.49 L267.81,613.50 L268.81,613.50 L269.82,613.50 L270.83,613.50 L271.85,613.50 L272.87,613.50 L273.89,613.50 L274.93,613.50 L275.96,613.50 L277.00,613.50 L278.05,613.50 L279.10,613.50 L280.15,613.50 L281.21,613.50 L282.28,613.50 L283.35,613.50 L284.43,613.50 L285.51,613.50 L286.59,613.50 L287.69,613.50 L288.78,613.50 L289.88,613.50 L290.99,613.50 L292.10,613.50 L293.22,613.50 L294.34,613.50 L295.47,613.50 L296.60,613.50 L297.74,613.50 L298.88,613.50 L300.03,613.50 L301.18,613.50 L302.34,613.50 L303.50,613.50 L304.67,613.50 L305.85,613.50 L307.03,613.50 L308.21,613.50 L309.40,613.50 L310.60,613.50 L311.80,613.50 L313.01,613.50 L314.22,613.50 L315.44,613.50 L316.66,613.50 L317.89,613.50 L319.12,613.50 L320.36,613.50 L321.60,613.50 L322.85,613.50 L324.11,613.50 L325.37,613.50 L326.63,613.50 L327.91,613.50 L329.18,613.50 L330.47,613.50 L331.75,613.50 L333.05,613.50 L334.35,613.50 L335.65,613.50 L336.96,613.50 L338.28,613.50 L339.60,613.50 L340.93,613.50 L342.26,613.50 L343.60,613.50 L344.94,613.50 L346.29,613.50 L347.65,613.50 L349.01,613.50 L350.38,613.50 L351.75,613.50 L353.13,613.50 L354.51,613.50 L355.90,613.50 L357.30,613.50 L358.70,613.50 L360.11,613.50 L361.52,613.50 L362.94,613.50 L364.37,613.50 L365.80,613.50 L367.23,613.50 L368.68,613.50 L370.12,613.50 L371.58,613.50 L373.04,613.50 L374.50,613.50 L375.98,613.50 L377.45,613.50 L378.94,613.50" stroke="#CB181D"/>
</g>
<rect x="107.0" y="34.9" width="541.9" height="605.6" fill="none" stroke="#4a4a4a" stroke-width="1.9"/>
<path d="M130.9,641.4 v7.6 M180.3,641.4 v7.6 M229.7,641.4 v7.6 M279.1,641.4 v7.6 M328.5,641.4 v7.6 M378.0,641.4 v7.6 M427.4,641.4 v7.6 M476.8,641.4 v7.6 M526.2,641.4 v7.6 M575.6,641.4 v7.6 M625.0,641.4 v7.6" stroke="#333333" stroke-width="3.4" fill="none"/>
<path d="M106.1,613.5 h-7.6 M106.1,558.3 h-7.6 M106.1,503.2 h-7.6 M106.1,448.0 h-7.6 M106.1,392.9 h-7.6 M106.1,337.7 h-7.6 M106.1,282.5 h-7.6 M106.1,227.4 h-7.6 M106.1,172.2 h-7.6 M106.1,117.1 h-7.6 M106.1,61.9 h-7.6" stroke="#333333" stroke-width="3.2" fill="none"/>
<g fill="#000">
<text transform="translate(95.30,623.60) scale(1,1.040)" font-size="31.80" text-anchor="end">0</text>
<text transform="translate(95.30,568.44) scale(1,1.040)" font-size="31.80" text-anchor="end">10</text>
<text transform="translate(95.30,513.28) scale(1,1.040)" font-size="31.80" text-anchor="end">20</text>
<text transform="translate(95.30,458.12) scale(1,1.040)" font-size="31.80" text-anchor="end">30</text>
<text transform="translate(95.30,402.96) scale(1,1.040)" font-size="31.80" text-anchor="end">40</text>
<text transform="translate(95.30,347.80) scale(1,1.040)" font-size="31.80" text-anchor="end">50</text>
<text transform="translate(95.30,292.64) scale(1,1.040)" font-size="31.80" text-anchor="end">60</text>
<text transform="translate(95.30,237.48) scale(1,1.040)" font-size="31.80" text-anchor="end">70</text>
<text transform="translate(95.30,182.32) scale(1,1.040)" font-size="31.80" text-anchor="end">80</text>
<text transform="translate(95.30,127.16) scale(1,1.040)" font-size="31.80" text-anchor="end">90</text>
<text transform="translate(95.30,72.00) scale(1,1.040)" font-size="31.80" text-anchor="end">100</text>
<text transform="translate(129.40,679.90) scale(1,1.040)" font-size="31.80" text-anchor="middle">0</text>
<text transform="translate(178.81,679.90) scale(1,1.040)" font-size="31.80" text-anchor="middle">10</text>
<text transform="translate(228.22,679.90) scale(1,1.040)" font-size="31.80" text-anchor="middle">20</text>
<text transform="translate(277.63,679.90) scale(1,1.040)" font-size="31.80" text-anchor="middle">30</text>
<text transform="translate(327.04,679.90) scale(1,1.040)" font-size="31.80" text-anchor="middle">40</text>
<text transform="translate(376.45,679.90) scale(1,1.040)" font-size="31.80" text-anchor="middle">50</text>
<text transform="translate(425.86,679.90) scale(1,1.040)" font-size="31.80" text-anchor="middle">60</text>
<text transform="translate(475.27,679.90) scale(1,1.040)" font-size="31.80" text-anchor="middle">70</text>
<text transform="translate(524.68,679.90) scale(1,1.040)" font-size="31.80" text-anchor="middle">80</text>
<text transform="translate(574.09,679.90) scale(1,1.040)" font-size="31.80" text-anchor="middle">90</text>
<text transform="translate(623.50,679.90) scale(1,1.040)" font-size="31.80" text-anchor="middle">100</text>
<text transform="translate(258.40,719.80) scale(1,1.040)" font-size="31.80" textLength="196.0" lengthAdjust="spacing">Out of sample</text>
<text transform="translate(463.00,719.8) scale(1.05,1.040)" font-size="31.80" font-style="italic">R</text>
<text transform="translate(489.90,704.20) scale(1,1.040)" font-size="22.30">2</text>
<text transform="translate(32.20,457.40) rotate(-90) scale(1,1.040)" font-size="31.80" textLength="164.3" lengthAdjust="spacing">% sites with</text>
<text transform="translate(32.20,276.70) rotate(-90) scale(1,1.040)" font-size="31.80">&gt;</text>
<text transform="translate(32.20,251.9) rotate(-90) scale(1.09,1.040)" font-size="31.80" font-style="italic">R</text>
<text transform="translate(16.70,224.50) rotate(-90) scale(1,1.040)" font-size="22.30">2</text>
<text transform="translate(449.40,96.20) scale(1,1.040)" font-size="31.80">Predictor</text>
<rect x="451.4" y="125.0" width="5.8" height="5.8" fill="#000000"/>
<text transform="translate(473.00,137.40) scale(1,1.040)" font-size="27.00">Full model</text>
<rect x="451.4" y="150.2" width="5.8" height="5.8" fill="#FD8D3C"/>
<text transform="translate(473.00,162.55) scale(1,1.040)" font-size="27.00">16 cell comp.</text>
<rect x="451.4" y="175.3" width="5.8" height="5.8" fill="#238B45"/>
<text transform="translate(473.00,187.70) scale(1,1.040)" font-size="27.00">Genetics</text>
<rect x="451.4" y="200.4" width="5.8" height="5.8" fill="#4292C6"/>
<text transform="translate(473.00,212.85) scale(1,1.040)" font-size="27.00">Intrinsic</text>
<rect x="451.4" y="225.6" width="5.8" height="5.8" fill="#CB181D"/>
<text transform="translate(473.00,238.00) scale(1,1.040)" font-size="27.00">Exposures</text>
<text x="5.3" y="39.6" font-size="54" font-weight="bold">a</text>
</g>
<!-- panel b -->
<rect x="793.3" y="34.9" width="541.9" height="605.6" fill="#fff"/>
<path d="M793.3,613.5 H1335.2 M793.3,558.3 H1335.2 M793.3,503.2 H1335.2 M793.3,448.0 H1335.2 M793.3,392.9 H1335.2 M793.3,337.7 H1335.2 M793.3,282.5 H1335.2 M793.3,227.4 H1335.2 M793.3,172.2 H1335.2 M793.3,117.1 H1335.2 M793.3,61.9 H1335.2" stroke="#EBEBEB" stroke-width="2.9" fill="none"/>
<path d="M817.2,34.9 V640.5 M866.6,34.9 V640.5 M916.0,34.9 V640.5 M965.4,34.9 V640.5 M1014.8,34.9 V640.5 M1064.2,34.9 V640.5 M1113.7,34.9 V640.5 M1163.1,34.9 V640.5 M1212.5,34.9 V640.5 M1261.9,34.9 V640.5 M1311.3,34.9 V640.5" stroke="#EBEBEB" stroke-width="3.4" fill="none"/>
<g fill="none" stroke-width="4.8" stroke-linejoin="round" stroke-linecap="butt">
<path d="M817.45,67.42 L817.45,69.22 L817.45,69.95 L817.46,70.81 L817.46,71.82 L817.46,72.97 L817.46,74.29 L817.47,75.77 L817.47,77.43 L817.47,79.27 L817.48,81.30 L817.48,83.54 L817.49,85.98 L817.49,88.62 L817.50,91.48 L817.51,94.56 L817.52,97.86 L817.52,101.39 L817.53,105.13 L817.54,109.10 L817.55,113.29 L817.56,117.70 L817.57,122.33 L817.59,127.17 L817.60,132.22 L817.61,137.47 L817.63,142.91 L817.64,148.54 L817.66,154.34 L817.68,160.31 L817.70,166.43 L817.71,172.69 L817.74,179.08 L817.76,185.59 L817.78,192.20 L817.80,198.90 L817.83,205.67 L817.85,212.50 L817.88,219.36 L817.90,226.26 L817.93,233.16 L817.96,240.06 L817.99,246.94 L818.03,253.78 L818.06,260.57 L818.09,267.30 L818.13,273.96 L818.17,280.52 L818.21,286.99 L818.25,293.34 L818.29,299.57 L818.33,305.68 L818.37,311.64 L818.42,317.47 L818.47,323.14 L818.51,328.66 L818.56,334.02 L818.62,339.23 L818.67,344.27 L818.72,349.15 L818.78,353.87 L818.84,358.44 L818.90,362.84 L818.96,367.10 L819.02,371.21 L819.09,375.17 L819.15,378.99 L819.22,382.68 L819.29,386.24 L819.36,389.67 L819.44,393.00 L819.51,396.21 L819.59,399.32 L819.67,402.33 L819.75,405.25 L819.83,408.09 L819.92,410.85 L820.01,413.54 L820.10,416.17 L820.19,418.73 L820.28,421.23 L820.38,423.69 L820.47,426.09 L820.57,428.46 L820.68,430.78 L820.78,433.07 L820.89,435.32 L820.99,437.54 L821.11,439.74 L821.22,441.90 L821.33,444.05 L821.45,446.16 L821.57,448.26 L821.69,450.33 L821.82,452.38 L821.95,454.41 L822.08,456.42 L822.21,458.41 L822.34,460.38 L822.48,462.33 L822.62,464.26 L822.76,466.17 L822.91,468.06 L823.06,469.93 L823.21,471.77 L823.36,473.59 L823.51,475.39 L823.67,477.17 L823.83,478.92 L824.00,480.65 L824.16,482.36 L824.33,484.04 L824.51,485.70 L824.68,487.33 L824.86,488.94 L825.04,490.52 L825.22,492.08 L825.41,493.61 L825.60,495.11 L825.79,496.59 L825.99,498.05 L826.19,499.47 L826.39,500.88 L826.59,502.25 L826.80,503.60 L827.01,504.93 L827.22,506.23 L827.44,507.50 L827.66,508.75 L827.89,509.98 L828.11,511.18 L828.34,512.36 L828.58,513.52 L828.81,514.65 L829.05,515.76 L829.30,516.85 L829.54,517.91 L829.79,518.96 L830.05,519.98 L830.31,520.99 L830.57,521.98 L830.83,522.94 L831.10,523.89 L831.37,524.82 L831.64,525.73 L831.92,526.63 L832.20,527.51 L832.49,528.38 L832.78,529.23 L833.07,530.06 L833.37,530.88 L833.67,531.69 L833.97,532.48 L834.28,533.27 L834.59,534.04 L834.91,534.80 L835.23,535.54 L835.55,536.28 L835.88,537.01 L836.21,537.73 L836.54,538.44 L836.88,539.14 L837.23,539.83 L837.57,540.51 L837.92,541.19 L838.28,541.86 L838.64,542.52 L839.00,543.17 L839.37,543.82 L839.74,544.47 L840.12,545.10 L840.50,545.73 L840.88,546.36 L841.27,546.98 L841.66,547.59 L842.06,548.21 L842.46,548.81 L842.87,549.41 L843.28,550.01 L843.69,550.60 L844.11,551.19 L844.53,551.77 L844.96,552.35 L845.39,552.92 L845.83,553.50 L846.27,554.06 L846.72,554.62 L847.17,555.18 L847.62,555.74 L848.08,556.29 L848.54,556.83 L849.01,557.37 L849.49,557.91 L849.96,558.44 L850.45,558.97 L850.94,559.49 L851.43,560.01 L851.92,560.53 L852.43,561.04 L852.93,561.54 L853.45,562.04 L853.96,562.54 L854.48,563.03 L855.01,563.51 L855.54,563.99 L856.08,564.47 L856.62,564.93 L857.17,565.40 L857.72,565.86 L858.28,566.31 L858.84,566.76 L859.40,567.20 L859.98,567.64 L860.55,568.07 L861.14,568.50 L861.72,568.92 L862.32,569.33 L862.92,569.74 L863.52,570.15 L864.13,570.55 L864.74,570.94 L865.36,571.33 L865.99,571.71 L866.62,572.09 L867.25,572.46 L867.89,572.83 L868.54,573.19 L869.19,573.55 L869.85,573.90 L870.51,574.25 L871.18,574.60 L871.86,574.94 L872.54,575.27 L873.22,575.60 L873.91,575.93 L874.61,576.25 L875.31,576.57 L876.02,576.88 L876.74,577.19 L877.46,577.50 L878.18,577.81 L878.92,578.11 L879.65,578.40 L880.40,578.70 L881.15,578.99 L881.90,579.28 L882.66,579.57 L883.43,579.85 L884.20,580.13 L884.98,580.41 L885.77,580.69 L886.56,580.96 L887.36,581.23 L888.16,581.51 L888.97,581.77 L889.79,582.04 L890.61,582.31 L891.44,582.57 L892.27,582.83 L893.11,583.09 L893.96,583.35 L894.81,583.61 L895.67,583.87 L896.54,584.13 L897.41,584.38 L898.29,584.64 L899.17,584.89 L900.06,585.14 L900.96,585.39 L901.87,585.64 L902.78,585.89 L903.70,586.14 L904.62,586.39 L905.55,586.64 L906.49,586.88 L907.43,587.13 L908.38,587.38 L909.34,587.62 L910.30,587.86 L911.27,588.11 L912.25,588.35 L913.23,588.59 L914.23,588.83 L915.22,589.07 L916.23,589.31 L917.24,589.55 L918.26,589.79 L919.28,590.03 L920.31,590.27 L921.35,590.50 L922.40,590.74 L923.45,590.97 L924.51,591.20 L925.58,591.44 L926.65,591.67 L927.74,591.90 L928.82,592.13 L929.92,592.35 L931.02,592.58 L932.13,592.81 L933.25,593.03 L934.37,593.25 L935.50,593.47 L936.64,593.69 L937.79,593.91 L938.94,594.13 L940.10,594.34 L941.27,594.55 L942.45,594.77 L943.63,594.97 L944.82,595.18 L946.02,595.39 L947.22,595.59 L948.44,595.79 L949.66,596.00 L950.89,596.19 L952.12,596.39 L953.36,596.58 L954.61,596.78 L955.87,596.97 L957.14,597.16 L958.41,597.34 L959.69,597.53 L960.98,597.71 L962.28,597.89 L963.59,598.07 L964.90,598.25 L966.22,598.43 L967.55,598.60 L968.88,598.78 L970.23,598.95 L971.58,599.12 L972.94,599.28 L974.31,599.45 L975.68,599.62 L977.07,599.78 L978.46,599.94 L979.86,600.10 L981.27,600.26 L982.68,600.42 L984.11,600.58 L985.54,600.74 L986.98,600.89 L988.43,601.05 L989.89,601.20 L991.35,601.35 L992.83,601.50 L994.31,601.65 L995.80,601.80 L997.30,601.95 L998.81,602.10 L1000.32,602.25 L1001.84,602.39 L1003.38,602.54 L1004.92,602.68 L1006.47,602.82 L1008.03,602.97 L1009.59,603.11 L1011.17,603.25 L1012.75,603.39 L1014.34,603.53 L1015.94,603.67 L1017.55,603.81 L1019.17,603.94 L1020.80,604.08 L1022.43,604.22 L1024.08,604.35 L1025.73,604.49 L1027.39,604.62 L1029.06,604.75 L1030.74,604.88 L1032.43,605.01 L1034.13,605.14 L1035.83,605.27 L1037.55,605.39 L1039.27,605.52 L1041.01,605.65 L1042.75,605.77 L1044.50,605.89 L1046.26,606.01 L1048.03,606.13 L1049.81,606.25 L1051.59,606.37 L1053.39,606.49 L1055.20,606.60 L1057.01,606.72 L1058.83,606.83 L1060.67,606.94 L1062.51,607.05 L1064.36,607.16 L1066.22,607.27 L1068.09,607.38 L1069.97,607.48 L1071.86,607.59 L1073.76,607.69 L1075.67,607.79 L1077.59,607.89 L1079.51,607.99 L1081.45,608.09 L1083.40,608.18 L1085.35,608.28 L1087.32,608.37 L1089.29,608.46 L1091.28,608.56 L1093.27,608.65 L1095.27,608.73 L1097.29,608.82 L1099.31,608.91 L1101.34,608.99 L1103.39,609.07 L1105.44,609.15 L1107.50,609.23 L1109.57,609.31 L1111.65,609.39 L1113.74,609.47 L1115.85,609.54 L1117.96,609.61 L1120.08,609.69 L1122.21,609.76 L1124.35,609.83 L1126.50,609.90 L1128.66,609.96 L1130.83,610.03 L1133.02,610.10 L1135.21,610.16 L1137.41,610.23 L1139.62,610.29 L1141.84,610.35 L1144.07,610.41 L1146.32,610.48 L1148.57,610.54 L1150.83,610.60 L1153.10,610.66 L1155.39,610.71 L1157.68,610.77 L1159.99,610.83 L1162.30,610.89 L1164.63,610.95 L1166.96,611.00 L1169.31,611.06 L1171.66,611.12 L1174.03,611.17 L1176.41,611.23 L1178.79,611.28 L1181.19,611.34 L1183.60,611.39 L1186.02,611.45 L1188.45,611.50 L1190.89,611.56 L1193.34,611.61 L1195.81,611.67 L1198.28,611.72 L1200.76,611.78 L1203.26,611.83 L1205.76,611.89 L1208.28,611.94 L1210.80,611.99 L1213.34,612.05 L1215.89,612.10 L1218.45,612.15 L1221.02,612.21 L1223.60,612.26 L1226.20,612.31 L1228.80,612.36 L1231.41,612.42 L1234.04,612.47 L1236.68,612.52 L1239.32,612.57 L1241.98,612.62 L1244.65,612.67 L1247.33,612.72 L1250.03,612.76 L1252.73,612.81 L1255.44,612.85 L1258.17,612.90 L1260.91,612.94 L1263.66,612.98 L1266.42,613.02 L1269.19,613.06 L1271.97,613.10 L1274.76,613.14 L1277.57,613.17 L1280.39,613.20 L1283.22,613.23 L1286.06,613.26 L1288.91,613.28 L1291.77,613.31 L1294.65,613.33 L1297.53,613.35 L1300.43,613.37" stroke="#238B45"/>
<path d="M817.45,64.11 L817.46,67.39 L817.46,69.89 L817.46,72.68 L817.47,75.79 L817.47,79.21 L817.47,82.95 L817.48,87.02 L817.48,91.42 L817.49,96.13 L817.49,101.16 L817.50,106.49 L817.51,112.12 L817.51,118.02 L817.52,124.19 L817.53,130.61 L817.54,137.25 L817.55,144.08 L817.56,151.09 L817.57,158.24 L817.58,165.52 L817.59,172.88 L817.61,180.30 L817.62,187.75 L817.64,195.20 L817.65,202.62 L817.67,209.98 L817.68,217.27 L817.70,224.44 L817.72,231.50 L817.74,238.40 L817.76,245.14 L817.78,251.70 L817.80,258.07 L817.83,264.24 L817.85,270.21 L817.88,275.97 L817.90,281.52 L817.93,286.87 L817.96,292.01 L817.99,296.97 L818.02,301.74 L818.05,306.33 L818.09,310.76 L818.12,315.04 L818.15,319.18 L818.19,323.20 L818.23,327.10 L818.27,330.91 L818.31,334.64 L818.35,338.29 L818.39,341.88 L818.44,345.43 L818.48,348.93 L818.53,352.41 L818.58,355.86 L818.63,359.30 L818.68,362.74 L818.73,366.16 L818.79,369.60 L818.84,373.03 L818.90,376.47 L818.96,379.93 L819.02,383.39 L819.08,386.86 L819.15,390.34 L819.21,393.84 L819.28,397.34 L819.35,400.84 L819.42,404.36 L819.49,407.88 L819.56,411.40 L819.64,414.92 L819.72,418.43 L819.80,421.94 L819.88,425.45 L819.96,428.94 L820.04,432.42 L820.13,435.89 L820.22,439.33 L820.31,442.76 L820.40,446.17 L820.50,449.55 L820.59,452.90 L820.69,456.22 L820.79,459.51 L820.89,462.77 L821.00,465.99 L821.10,469.17 L821.21,472.32 L821.32,475.42 L821.44,478.48 L821.55,481.49 L821.67,484.46 L821.79,487.38 L821.91,490.25 L822.03,493.07 L822.16,495.84 L822.29,498.56 L822.42,501.22 L822.55,503.83 L822.69,506.39 L822.83,508.90 L822.97,511.35 L823.11,513.75 L823.25,516.09 L823.40,518.37 L823.55,520.60 L823.70,522.78 L823.86,524.90 L824.02,526.97 L824.18,528.99 L824.34,530.95 L824.51,532.86 L824.67,534.72 L824.84,536.53 L825.02,538.29 L825.19,540.00 L825.37,541.66 L825.55,543.27 L825.74,544.84 L825.92,546.36 L826.11,547.84 L826.31,549.28 L826.50,550.68 L826.70,552.03 L826.90,553.35 L827.11,554.63 L827.31,555.87 L827.52,557.08 L827.74,558.26 L827.95,559.40 L828.17,560.51 L828.39,561.59 L828.62,562.64 L828.85,563.67 L829.08,564.66 L829.31,565.64 L829.55,566.59 L829.79,567.51 L830.03,568.42 L830.28,569.30 L830.53,570.16 L830.78,571.01 L831.04,571.83 L831.30,572.64 L831.56,573.44 L831.83,574.22 L832.10,574.98 L832.37,575.73 L832.65,576.47 L832.93,577.20 L833.21,577.91 L833.50,578.61 L833.79,579.30 L834.08,579.99 L834.38,580.66 L834.68,581.32 L834.98,581.98 L835.29,582.62 L835.60,583.26 L835.91,583.89 L836.23,584.51 L836.55,585.13 L836.88,585.73 L837.21,586.33 L837.54,586.93 L837.88,587.52 L838.22,588.10 L838.56,588.67 L838.91,589.24 L839.26,589.80 L839.62,590.35 L839.98,590.90 L840.34,591.44 L840.71,591.97 L841.08,592.50 L841.46,593.02 L841.84,593.53 L842.22,594.03 L842.61,594.53 L843.00,595.02 L843.39,595.51 L843.79,595.98 L844.19,596.45 L844.60,596.91 L845.01,597.37 L845.43,597.81 L845.85,598.25 L846.27,598.68 L846.70,599.10 L847.13,599.51 L847.57,599.92 L848.01,600.32 L848.45,600.70 L848.90,601.08 L849.36,601.45 L849.82,601.82 L850.28,602.17 L850.75,602.52 L851.22,602.85 L851.69,603.18 L852.17,603.50 L852.66,603.81 L853.15,604.12 L853.64,604.41 L854.14,604.70 L854.64,604.98 L855.15,605.25 L855.66,605.51 L856.18,605.76 L856.70,606.01 L857.22,606.24 L857.75,606.48 L858.29,606.70 L858.83,606.91 L859.37,607.12 L859.92,607.32 L860.47,607.52 L861.03,607.71 L861.60,607.89 L862.17,608.06 L862.74,608.23 L863.32,608.40 L863.90,608.55 L864.49,608.71 L865.08,608.85 L865.68,608.99 L866.28,609.13 L866.89,609.26 L867.50,609.38 L868.12,609.51 L868.74,609.62 L869.37,609.74 L870.00,609.84 L870.64,609.95 L871.29,610.05 L871.94,610.15 L872.59,610.24 L873.25,610.33 L873.91,610.42 L874.58,610.51 L875.26,610.59 L875.94,610.67 L876.62,610.74 L877.31,610.82 L878.01,610.89 L878.71,610.96 L879.42,611.03 L880.13,611.09 L880.85,611.16 L881.57,611.22 L882.30,611.28 L883.03,611.34 L883.77,611.40 L884.52,611.45 L885.27,611.51 L886.03,611.56 L886.79,611.62 L887.56,611.67 L888.33,611.72 L889.11,611.77 L889.89,611.82 L890.68,611.86 L891.48,611.91 L892.28,611.96 L893.09,612.00 L893.90,612.05 L894.72,612.09 L895.55,612.14 L896.38,612.18 L897.21,612.23 L898.06,612.27 L898.90,612.31 L899.76,612.35 L900.62,612.39 L901.49,612.43 L902.36,612.47 L903.24,612.51 L904.12,612.55 L905.01,612.59 L905.91,612.63 L906.81,612.66 L907.72,612.70 L908.63,612.73 L909.55,612.77 L910.48,612.80 L911.42,612.84 L912.36,612.87 L913.30,612.90 L914.25,612.93 L915.21,612.96 L916.18,612.99 L917.15,613.02 L918.12,613.05 L919.11,613.08 L920.10,613.10 L921.10,613.13 L922.10,613.15 L923.11,613.18 L924.12,613.20 L925.15,613.22 L926.18,613.24 L927.21,613.26 L928.25,613.28 L929.30,613.29 L930.36,613.31 L931.42,613.32 L932.49,613.34 L933.56,613.35 L934.64,613.36 L935.73,613.38 L936.83,613.39 L937.93,613.40 L939.04,613.40 L940.15,613.41 L941.28,613.42 L942.41,613.43 L943.54,613.43 L944.68,613.44 L945.83,613.45 L946.99,613.45 L948.15,613.46 L949.32,613.46 L950.50,613.46 L951.69,613.47 L952.88,613.47 L954.08,613.47 L955.28,613.47 L956.49,613.48 L957.71,613.48 L958.94,613.48 L960.18,613.48 L961.42,613.48 L962.66,613.49 L963.92,613.49 L965.18,613.49 L966.45,613.49 L967.73,613.49 L969.01,613.49 L970.31,613.49 L971.61,613.49 L972.91,613.49 L974.23,613.49 L975.55,613.49 L976.88,613.50 L978.21,613.50 L979.55,613.50 L980.91,613.50 L982.26,613.50 L983.63,613.50 L985.00,613.50 L986.38,613.50 L987.77,613.50 L989.17,613.50 L990.57,613.50 L991.98,613.50 L993.40,613.50 L994.83,613.50 L996.26,613.50 L997.71,613.50 L999.16,613.50 L1000.61,613.50 L1002.08,613.50 L1003.55,613.50 L1005.03,613.50 L1006.52,613.50 L1008.02,613.50 L1009.52,613.50 L1011.03,613.50 L1012.56,613.50 L1014.08,613.50 L1015.62,613.50 L1017.16,613.50 L1018.72,613.50 L1020.28,613.50 L1021.84,613.50 L1023.42,613.50 L1025.01,613.50 L1026.60,613.50 L1028.20,613.50 L1029.81,613.50 L1031.42,613.50 L1033.05,613.50 L1034.68,613.50 L1036.32,613.50 L1037.97,613.50 L1039.63,613.50 L1041.30,613.50 L1042.97,613.50 L1044.66,613.50 L1046.35,613.50 L1048.05,613.50 L1049.76,613.50 L1051.47,613.50 L1053.20,613.50 L1054.93,613.50 L1056.67,613.50 L1058.42,613.50 L1060.18,613.50 L1061.95,613.50 L1063.73,613.50 L1065.51,613.50 L1067.30,613.50 L1069.10,613.50 L1070.92,613.50 L1072.73,613.50 L1074.56,613.50 L1076.40,613.50 L1078.24,613.50 L1080.10,613.50 L1081.96,613.50 L1083.83,613.50 L1085.71,613.50 L1087.60,613.50 L1089.50,613.50 L1091.41,613.50 L1093.32,613.50 L1095.25,613.50 L1097.18,613.50 L1099.12,613.50 L1101.08,613.50 L1103.04,613.50 L1105.01,613.50 L1106.98,613.50 L1108.97,613.50 L1110.97,613.50 L1112.97,613.50 L1114.99,613.50 L1117.01,613.50 L1119.05,613.50 L1121.09,613.50 L1123.14,613.50 L1125.20,613.50 L1127.27,613.50 L1129.35,613.50 L1131.44,613.50 L1133.54,613.50 L1135.64,613.50 L1137.76,613.50 L1139.89,613.50 L1142.02,613.50 L1144.17,613.50 L1146.32,613.50 L1148.49,613.50 L1150.66,613.50 L1152.84,613.50 L1155.03,613.50 L1157.23,613.50 L1159.45,613.50 L1161.67,613.50 L1163.90,613.50 L1166.14,613.50 L1168.39,613.50 L1170.65,613.50 L1172.91,613.50 L1175.19,613.50 L1177.48,613.50 L1179.78,613.50 L1182.09,613.50 L1184.41,613.50 L1186.73,613.50 L1189.07,613.50 L1191.42,613.50 L1193.77,613.50 L1196.14,613.50 L1198.52,613.50 L1200.90,613.50 L1203.30,613.50 L1205.71,613.50 L1208.12,613.50 L1210.55,613.50 L1212.99,613.50 L1215.43,613.50 L1217.89,613.50 L1220.36,613.50 L1222.83,613.50 L1225.32,613.50 L1227.82,613.50 L1230.33,613.50 L1232.84,613.50 L1235.37,613.50 L1237.91,613.50 L1240.46,613.50 L1243.02,613.50 L1245.58,613.50" stroke="#4292C6"/>
<path d="M817.45,67.97 L817.45,95.03 L817.45,95.04 L817.45,95.07 L817.45,95.12 L817.45,95.20 L817.45,95.33 L817.45,95.50 L817.45,95.74 L817.45,96.04 L817.45,96.42 L817.45,96.88 L817.45,97.42 L817.45,98.07 L817.45,98.82 L817.45,99.69 L817.45,100.68 L817.46,101.79 L817.46,103.04 L817.46,104.42 L817.46,105.96 L817.46,107.64 L817.47,109.48 L817.47,111.49 L817.47,113.66 L817.47,116.00 L817.48,118.51 L817.48,121.20 L817.49,124.06 L817.49,127.11 L817.49,130.34 L817.50,133.75 L817.50,137.34 L817.51,141.12 L817.52,145.08 L817.52,149.21 L817.53,153.53 L817.54,158.02 L817.54,162.69 L817.55,167.53 L817.56,172.53 L817.57,177.70 L817.58,183.03 L817.59,188.51 L817.60,194.14 L817.61,199.92 L817.62,205.84 L817.63,211.89 L817.64,218.07 L817.66,224.38 L817.67,230.80 L817.68,237.33 L817.70,243.96 L817.71,250.70 L817.73,257.52 L817.74,264.43 L817.76,271.41 L817.77,278.46 L817.79,285.58 L817.81,292.74 L817.83,299.96 L817.85,307.21 L817.87,314.49 L817.89,321.80 L817.91,329.12 L817.93,336.44 L817.96,343.76 L817.98,351.07 L818.00,358.36 L818.03,365.62 L818.05,372.85 L818.08,380.03 L818.11,387.15 L818.13,394.21 L818.16,401.20 L818.19,408.11 L818.22,414.94 L818.25,421.67 L818.29,428.31 L818.32,434.83 L818.35,441.25 L818.39,447.54 L818.42,453.71 L818.46,459.75 L818.49,465.65 L818.53,471.42 L818.57,477.04 L818.61,482.52 L818.65,487.85 L818.69,493.03 L818.74,498.05 L818.78,502.92 L818.82,507.64 L818.87,512.21 L818.92,516.61 L818.96,520.87 L819.01,524.97 L819.06,528.92 L819.11,532.72 L819.16,536.36 L819.21,539.87 L819.27,543.23 L819.32,546.45 L819.38,549.53 L819.44,552.48 L819.49,555.30 L819.55,557.99 L819.61,560.56 L819.67,563.01 L819.74,565.34 L819.80,567.57 L819.86,569.69 L819.93,571.71 L820.00,573.63 L820.07,575.45 L820.14,577.19 L820.21,578.84 L820.28,580.41 L820.35,581.90 L820.43,583.32 L820.50,584.67 L820.58,585.96 L820.66,587.18 L820.74,588.34 L820.82,589.45 L820.90,590.50 L820.98,591.50 L821.07,592.46 L821.15,593.37 L821.24,594.25 L821.33,595.08 L821.42,595.87 L821.51,596.63 L821.61,597.36 L821.70,598.05 L821.80,598.72 L821.89,599.36 L821.99,599.97 L822.09,600.55 L822.19,601.12 L822.30,601.66 L822.40,602.18 L822.51,602.67 L822.62,603.15 L822.73,603.61 L822.84,604.06 L822.95,604.48 L823.06,604.89 L823.18,605.29 L823.29,605.67 L823.41,606.03 L823.53,606.38 L823.65,606.72 L823.78,607.04 L823.90,607.36 L824.03,607.66 L824.16,607.94 L824.29,608.22 L824.42,608.49 L824.55,608.74 L824.69,608.98 L824.82,609.22 L824.96,609.44 L825.10,609.66 L825.24,609.86 L825.39,610.06 L825.53,610.25 L825.68,610.43 L825.83,610.60 L825.98,610.76 L826.13,610.92 L826.29,611.07 L826.44,611.21 L826.60,611.35 L826.76,611.48 L826.92,611.60 L827.08,611.71 L827.25,611.82 L827.42,611.93 L827.58,612.03 L827.76,612.12 L827.93,612.21 L828.10,612.29 L828.28,612.37 L828.46,612.45 L828.64,612.52 L828.82,612.58 L829.01,612.65 L829.19,612.71 L829.38,612.76 L829.57,612.81 L829.76,612.86 L829.96,612.91 L830.15,612.95 L830.35,612.99 L830.55,613.03 L830.76,613.06 L830.96,613.10 L831.17,613.13 L831.38,613.16 L831.59,613.18 L831.80,613.21 L832.02,613.23 L832.23,613.25 L832.45,613.27 L832.68,613.29 L832.90,613.31 L833.13,613.32 L833.35,613.34 L833.58,613.35 L833.82,613.36 L834.05,613.38 L834.29,613.39 L834.53,613.40 L834.77,613.41 L835.01,613.41 L835.26,613.42 L835.51,613.43 L835.76,613.44 L836.01,613.44 L836.27,613.45 L836.53,613.45 L836.79,613.46 L837.05,613.46 L837.31,613.46 L837.58,613.47 L837.85,613.47 L838.12,613.47 L838.40,613.48 L838.67,613.48 L838.95,613.48 L839.24,613.48 L839.52,613.48 L839.81,613.49 L840.10,613.49 L840.39,613.49 L840.68,613.49 L840.98,613.49 L841.28,613.49 L841.58,613.49 L841.88,613.49 L842.19,613.49 L842.50,613.49 L842.81,613.50 L843.12,613.50 L843.44,613.50 L843.76,613.50 L844.08,613.50 L844.41,613.50 L844.74,613.50 L845.07,613.50 L845.40,613.50 L845.73,613.50 L846.07,613.50 L846.41,613.50 L846.76,613.50 L847.10,613.50 L847.45,613.50 L847.80,613.50 L848.16,613.50 L848.51,613.50 L848.87,613.50 L849.24,613.50 L849.60,613.50 L849.97,613.50 L850.34,613.50 L850.72,613.50 L851.09,613.50 L851.47,613.50 L851.85,613.50 L852.24,613.50 L852.63,613.50 L853.02,613.50 L853.41,613.50 L853.81,613.50 L854.21,613.50 L854.61,613.50 L855.02,613.50 L855.42,613.50 L855.84,613.50 L856.25,613.50 L856.67,613.50 L857.09,613.50 L857.51,613.50 L857.94,613.50 L858.37,613.50 L858.80,613.50 L859.23,613.50 L859.67,613.50 L860.11,613.50 L860.56,613.50 L861.00,613.50 L861.46,613.50 L861.91,613.50 L862.37,613.50 L862.83,613.50 L863.29,613.50 L863.75,613.50 L864.22,613.50 L864.70,613.50 L865.17,613.50 L865.65,613.50 L866.13,613.50 L866.62,613.50 L867.11,613.50 L867.60,613.50 L868.09,613.50 L868.59,613.50 L869.09,613.50 L869.60,613.50 L870.11,613.50 L870.62,613.50 L871.13,613.50 L871.65,613.50 L872.17,613.50 L872.70,613.50 L873.22,613.50 L873.75,613.50 L874.29,613.50 L874.83,613.50 L875.37,613.50 L875.91,613.50 L876.46,613.50 L877.01,613.50 L877.57,613.50 L878.13,613.50 L878.69,613.50 L879.25,613.50 L879.82,613.50 L880.39,613.50 L880.97,613.50 L881.55,613.50 L882.13,613.50 L882.72,613.50 L883.31,613.50 L883.90,613.50 L884.50,613.50 L885.10,613.50 L885.70,613.50 L886.31,613.50 L886.92,613.50 L887.54,613.50 L888.15,613.50 L888.78,613.50 L889.40,613.50 L890.03,613.50 L890.66,613.50 L891.30,613.50 L891.94,613.50 L892.59,613.50 L893.23,613.50 L893.88,613.50 L894.54,613.50 L895.20,613.50 L895.86,613.50 L896.53,613.50 L897.20,613.50 L897.87,613.50 L898.55,613.50 L899.23,613.50 L899.92,613.50 L900.61,613.50 L901.30,613.50 L902.00,613.50 L902.70,613.50 L903.40,613.50 L904.11,613.50 L904.82,613.50 L905.54,613.50 L906.26,613.50 L906.98,613.50 L907.71,613.50 L908.44,613.50 L909.18,613.50 L909.92,613.50 L910.66,613.50 L911.41,613.50 L912.16,613.50 L912.92,613.50 L913.68,613.50 L914.44,613.50 L915.21,613.50 L915.98,613.50 L916.75,613.50 L917.53,613.50 L918.32,613.50 L919.11,613.50 L919.90,613.50 L920.69,613.50 L921.50,613.50 L922.30,613.50 L923.11,613.50 L923.92,613.50 L924.74,613.50 L925.56,613.50 L926.38,613.50 L927.21,613.50 L928.05,613.50 L928.89,613.50 L929.73,613.50 L930.57,613.50 L931.42,613.50 L932.28,613.50 L933.14,613.50 L934.00,613.50 L934.87,613.50 L935.74,613.50 L936.62,613.50 L937.50,613.50 L938.38,613.50 L939.27,613.50 L940.17,613.50 L941.06,613.50 L941.97,613.50 L942.87,613.50 L943.78,613.50 L944.70,613.50 L945.62,613.50 L946.54,613.50 L947.47,613.50 L948.41,613.50 L949.34,613.50 L950.29,613.50 L951.23,613.50 L952.18,613.50 L953.14,613.50 L954.10,613.50 L955.06,613.50 L956.03,613.50 L957.01,613.50 L957.98,613.50 L958.97,613.50 L959.95,613.50 L960.95,613.50 L961.94,613.50 L962.94,613.50 L963.95,613.50 L964.96,613.50 L965.97,613.50 L966.99,613.50 L968.02,613.50 L969.05,613.50 L970.08,613.50 L971.12,613.50 L972.16,613.50 L973.21,613.50 L974.26,613.50 L975.32,613.50 L976.38,613.50 L977.45,613.50 L978.52,613.50 L979.60,613.50 L980.68,613.50 L981.76,613.50 L982.85,613.50 L983.95,613.50 L985.05,613.50 L986.15,613.50 L987.26,613.50 L988.38,613.50 L989.50,613.50 L990.62,613.50 L991.75,613.50 L992.89,613.50 L994.03,613.50 L995.17,613.50 L996.32,613.50 L997.47,613.50 L998.63,613.50 L999.80,613.50 L1000.97,613.50 L1002.14,613.50 L1003.32,613.50 L1004.50,613.50 L1005.69,613.50 L1006.88,613.50 L1008.08,613.50 L1009.29,613.50 L1010.50,613.50 L1011.71,613.50 L1012.93,613.50 L1014.15,613.50 L1015.38,613.50 L1016.62,613.50 L1017.86,613.50 L1019.10,613.50 L1020.35,613.50 L1021.61,613.50 L1022.87,613.50 L1024.13,613.50 L1025.40,613.50 L1026.68,613.50 L1027.96,613.50 L1029.25,613.50 L1030.54,613.50 L1031.84,613.50 L1033.14,613.50 L1034.44,613.50 L1035.76,613.50 L1037.07,613.50" stroke="#CB181D"/>
<path d="M817.20,503.18 L817.20,505.56 L817.20,505.56 L817.20,505.57 L817.20,505.57 L817.20,505.58 L817.20,505.60 L817.20,505.62 L817.20,505.65 L817.20,505.69 L817.20,505.74 L817.20,505.80 L817.20,505.87 L817.20,505.96 L817.20,506.06 L817.20,506.17 L817.20,506.30 L817.20,506.45 L817.20,506.62 L817.20,506.80 L817.20,507.00 L817.20,507.23 L817.21,507.47 L817.21,507.74 L817.21,508.03 L817.21,508.34 L817.21,508.68 L817.21,509.05 L817.21,509.43 L817.21,509.85 L817.21,510.29 L817.21,510.75 L817.22,511.25 L817.22,511.77 L817.22,512.31 L817.22,512.89 L817.22,513.49 L817.22,514.11 L817.23,514.77 L817.23,515.45 L817.23,516.15 L817.23,516.88 L817.24,517.64 L817.24,518.42 L817.24,519.22 L817.24,520.05 L817.25,520.90 L817.25,521.76 L817.25,522.65 L817.26,523.56 L817.26,524.48 L817.26,525.42 L817.27,526.38 L817.27,527.35 L817.28,528.33 L817.28,529.33 L817.28,530.33 L817.29,531.34 L817.29,532.36 L817.30,533.39 L817.30,534.42 L817.31,535.45 L817.31,536.48 L817.32,537.52 L817.33,538.55 L817.33,539.58 L817.34,540.60 L817.34,541.62 L817.35,542.64 L817.36,543.65 L817.36,544.64 L817.37,545.63 L817.38,546.61 L817.39,547.58 L817.39,548.53 L817.40,549.47 L817.41,550.40 L817.42,551.32 L817.43,552.22 L817.44,553.10 L817.44,553.98 L817.45,554.83 L817.46,555.67 L817.47,556.50 L817.48,557.31 L817.49,558.10 L817.50,558.88 L817.51,559.64 L817.53,560.39 L817.54,561.13 L817.55,561.85 L817.56,562.56 L817.57,563.25 L817.58,563.93 L817.60,564.60 L817.61,565.26 L817.62,565.90 L817.64,566.54 L817.65,567.16 L817.66,567.78 L817.68,568.39 L817.69,568.98 L817.71,569.57 L817.72,570.16 L817.74,570.73 L817.75,571.30 L817.77,571.87 L817.78,572.42 L817.80,572.98 L817.82,573.53 L817.84,574.07 L817.85,574.61 L817.87,575.15 L817.89,575.68 L817.91,576.21 L817.93,576.74 L817.94,577.27 L817.96,577.79 L817.98,578.31 L818.00,578.83 L818.02,579.35 L818.05,579.86 L818.07,580.38 L818.09,580.89 L818.11,581.40 L818.13,581.91 L818.15,582.42 L818.18,582.93 L818.20,583.43 L818.22,583.93 L818.25,584.44 L818.27,584.94 L818.30,585.43 L818.32,585.93 L818.35,586.42 L818.37,586.92 L818.40,587.41 L818.43,587.89 L818.45,588.38 L818.48,588.86 L818.51,589.34 L818.54,589.82 L818.57,590.29 L818.60,590.76 L818.62,591.23 L818.65,591.69 L818.69,592.15 L818.72,592.61 L818.75,593.06 L818.78,593.51 L818.81,593.96 L818.84,594.40 L818.88,594.83 L818.91,595.26 L818.94,595.69 L818.98,596.11 L819.01,596.53 L819.05,596.94 L819.08,597.35 L819.12,597.76 L819.15,598.15 L819.19,598.54 L819.23,598.93 L819.27,599.31 L819.30,599.69 L819.34,600.06 L819.38,600.42 L819.42,600.78 L819.46,601.14 L819.50,601.48 L819.54,601.82 L819.59,602.16 L819.63,602.49 L819.67,602.81 L819.71,603.13 L819.76,603.44 L819.80,603.75 L819.85,604.05 L819.89,604.34 L819.94,604.63 L819.98,604.91 L820.03,605.19 L820.08,605.46 L820.12,605.72 L820.17,605.98 L820.22,606.23 L820.27,606.48 L820.32,606.72 L820.37,606.95 L820.42,607.18 L820.47,607.40 L820.53,607.62 L820.58,607.83 L820.63,608.04 L820.68,608.24 L820.74,608.43 L820.79,608.62 L820.85,608.81 L820.90,608.99 L820.96,609.16 L821.02,609.33 L821.08,609.49 L821.13,609.65 L821.19,609.81 L821.25,609.96 L821.31,610.10 L821.37,610.24 L821.43,610.38 L821.49,610.51 L821.56,610.64 L821.62,610.76 L821.68,610.88 L821.75,610.99 L821.81,611.10 L821.88,611.21 L821.94,611.31 L822.01,611.41 L822.08,611.50 L822.14,611.60 L822.21,611.68 L822.28,611.77 L822.35,611.85 L822.42,611.93 L822.49,612.00 L822.56,612.08 L822.64,612.15 L822.71,612.21 L822.78,612.28 L822.86,612.34 L822.93,612.40 L823.01,612.45 L823.08,612.51 L823.16,612.56 L823.24,612.61 L823.31,612.65 L823.39,612.70 L823.47,612.74 L823.55,612.78 L823.63,612.82 L823.71,612.86 L823.80,612.89 L823.88,612.93 L823.96,612.96 L824.05,612.99 L824.13,613.02 L824.22,613.05 L824.30,613.07 L824.39,613.10 L824.48,613.12 L824.57,613.14 L824.66,613.16 L824.75,613.18 L824.84,613.20 L824.93,613.22 L825.02,613.24 L825.11,613.25 L825.21,613.27 L825.30,613.28 L825.40,613.30 L825.49,613.31 L825.59,613.32 L825.68,613.33 L825.78,613.35 L825.88,613.36 L825.98,613.36 L826.08,613.37 L826.18,613.38 L826.28,613.39 L826.39,613.40 L826.49,613.40 L826.59,613.41 L826.70,613.42 L826.80,613.42 L826.91,613.43 L827.02,613.43 L827.12,613.44 L827.23,613.44 L827.34,613.45 L827.45,613.45 L827.56,613.45 L827.68,613.46 L827.79,613.46 L827.90,613.46 L828.02,613.47 L828.13,613.47 L828.25,613.47 L828.36,613.47 L828.48,613.48 L828.60,613.48 L828.72,613.48 L828.84,613.48 L828.96,613.48 L829.08,613.48 L829.20,613.48 L829.33,613.49 L829.45,613.49 L829.58,613.49 L829.70,613.49 L829.83,613.49 L829.96,613.49 L830.08,613.49 L830.21,613.49 L830.34,613.49 L830.47,613.49 L830.61,613.49 L830.74,613.49 L830.87,613.50 L831.01,613.50 L831.14,613.50 L831.28,613.50 L831.42,613.50 L831.55,613.50 L831.69,613.50 L831.83,613.50 L831.97,613.50 L832.12,613.50 L832.26,613.50 L832.40,613.50 L832.55,613.50 L832.69,613.50 L832.84,613.50 L832.98,613.50 L833.13,613.50 L833.28,613.50 L833.43,613.50 L833.58,613.50 L833.73,613.50 L833.89,613.50 L834.04,613.50 L834.19,613.50 L834.35,613.50 L834.51,613.50 L834.66,613.50 L834.82,613.50 L834.98,613.50 L835.14,613.50 L835.30,613.50 L835.46,613.50 L835.63,613.50 L835.79,613.50 L835.96,613.50 L836.12,613.50 L836.29,613.50 L836.46,613.50 L836.63,613.50 L836.80,613.50 L836.97,613.50 L837.14,613.50 L837.31,613.50 L837.48,613.50 L837.66,613.50 L837.84,613.50 L838.01,613.50 L838.19,613.50 L838.37,613.50 L838.55,613.50 L838.73,613.50 L838.91,613.50 L839.09,613.50 L839.28,613.50 L839.46,613.50 L839.65,613.50 L839.84,613.50 L840.03,613.50 L840.21,613.50 L840.40,613.50 L840.60,613.50 L840.79,613.50 L840.98,613.50 L841.18,613.50 L841.37,613.50 L841.57,613.50 L841.77,613.50 L841.96,613.50 L842.16,613.50 L842.36,613.50 L842.57,613.50 L842.77,613.50 L842.97,613.50 L843.18,613.50 L843.38,613.50 L843.59,613.50 L843.80,613.50 L844.01,613.50 L844.22,613.50 L844.43,613.50 L844.64,613.50 L844.86,613.50 L845.07,613.50 L845.29,613.50 L845.51,613.50 L845.72,613.50 L845.94,613.50 L846.16,613.50 L846.39,613.50 L846.61,613.50 L846.83,613.50 L847.06,613.50 L847.28,613.50 L847.51,613.50 L847.74,613.50 L847.97,613.50 L848.20,613.50 L848.43,613.50 L848.67,613.50 L848.90,613.50 L849.14,613.50 L849.37,613.50 L849.61,613.50 L849.85,613.50 L850.09,613.50 L850.33,613.50 L850.57,613.50 L850.82,613.50 L851.06,613.50 L851.31,613.50 L851.55,613.50 L851.80,613.50 L852.05,613.50 L852.30,613.50 L852.55,613.50 L852.81,613.50 L853.06,613.50 L853.32,613.50 L853.57,613.50 L853.83,613.50 L854.09,613.50 L854.35,613.50 L854.61,613.50 L854.88,613.50 L855.14,613.50 L855.41,613.50 L855.67,613.50 L855.94,613.50 L856.21,613.50 L856.48,613.50 L856.75,613.50 L857.02,613.50 L857.30,613.50 L857.57,613.50 L857.85,613.50 L858.13,613.50 L858.41,613.50 L858.69,613.50 L858.97,613.50 L859.25,613.50 L859.53,613.50 L859.82,613.50 L860.11,613.50 L860.40,613.50 L860.68,613.50 L860.97,613.50 L861.27,613.50 L861.56,613.50 L861.85,613.50 L862.15,613.50 L862.45,613.50 L862.75,613.50 L863.04,613.50 L863.35,613.50 L863.65,613.50 L863.95,613.50 L864.26,613.50 L864.56,613.50 L864.87,613.50 L865.18,613.50 L865.49,613.50 L865.80,613.50 L866.11,613.50 L866.43,613.50 L866.74,613.50 L867.06,613.50 L867.38,613.50 L867.70,613.50 L868.02,613.50 L868.34,613.50 L868.67,613.50 L868.99,613.50 L869.32,613.50 L869.64,613.50 L869.97,613.50 L870.30,613.50 L870.64,613.50 L870.97,613.50 L871.30,613.50 L871.64,613.50 L871.98,613.50 L872.32,613.50 L872.66,613.50 L873.00,613.50 L873.34,613.50 L873.69,613.50 L874.03,613.50 L874.38,613.50 L874.73,613.50 L875.08,613.50 L875.43,613.50 L875.78,613.50 L876.14,613.50 L876.49,613.50" stroke="#238B45"/>
</g>
<rect x="793.3" y="34.9" width="541.9" height="605.6" fill="none" stroke="#4a4a4a" stroke-width="1.9"/>
<path d="M817.2,641.4 v7.6 M866.6,641.4 v7.6 M916.0,641.4 v7.6 M965.4,641.4 v7.6 M1014.8,641.4 v7.6 M1064.2,641.4 v7.6 M1113.7,641.4 v7.6 M1163.1,641.4 v7.6 M1212.5,641.4 v7.6 M1261.9,641.4 v7.6 M1311.3,641.4 v7.6" stroke="#333333" stroke-width="3.4" fill="none"/>
<path d="M792.4,613.5 h-7.6 M792.4,558.3 h-7.6 M792.4,503.2 h-7.6 M792.4,448.0 h-7.6 M792.4,392.9 h-7.6 M792.4,337.7 h-7.6 M792.4,282.5 h-7.6 M792.4,227.4 h-7.6 M792.4,172.2 h-7.6 M792.4,117.1 h-7.6 M792.4,61.9 h-7.6" stroke="#333333" stroke-width="3.2" fill="none"/>
<g fill="#000">
<text transform="translate(781.60,623.60) scale(1,1.040)" font-size="31.80" text-anchor="end">0</text>
<text transform="translate(781.60,568.44) scale(1,1.040)" font-size="31.80" text-anchor="end">10</text>
<text transform="translate(781.60,513.28) scale(1,1.040)" font-size="31.80" text-anchor="end">20</text>
<text transform="translate(781.60,458.12) scale(1,1.040)" font-size="31.80" text-anchor="end">30</text>
<text transform="translate(781.60,402.96) scale(1,1.040)" font-size="31.80" text-anchor="end">40</text>
<text transform="translate(781.60,347.80) scale(1,1.040)" font-size="31.80" text-anchor="end">50</text>
<text transform="translate(781.60,292.64) scale(1,1.040)" font-size="31.80" text-anchor="end">60</text>
<text transform="translate(781.60,237.48) scale(1,1.040)" font-size="31.80" text-anchor="end">70</text>
<text transform="translate(781.60,182.32) scale(1,1.040)" font-size="31.80" text-anchor="end">80</text>
<text transform="translate(781.60,127.16) scale(1,1.040)" font-size="31.80" text-anchor="end">90</text>
<text transform="translate(781.60,72.00) scale(1,1.040)" font-size="31.80" text-anchor="end">100</text>
<text transform="translate(815.70,679.90) scale(1,1.040)" font-size="31.80" text-anchor="middle">0</text>
<text transform="translate(865.11,679.90) scale(1,1.040)" font-size="31.80" text-anchor="middle">10</text>
<text transform="translate(914.52,679.90) scale(1,1.040)" font-size="31.80" text-anchor="middle">20</text>
<text transform="translate(963.93,679.90) scale(1,1.040)" font-size="31.80" text-anchor="middle">30</text>
<text transform="translate(1013.34,679.90) scale(1,1.040)" font-size="31.80" text-anchor="middle">40</text>
<text transform="translate(1062.75,679.90) scale(1,1.040)" font-size="31.80" text-anchor="middle">50</text>
<text transform="translate(1112.16,679.90) scale(1,1.040)" font-size="31.80" text-anchor="middle">60</text>
<text transform="translate(1161.57,679.90) scale(1,1.040)" font-size="31.80" text-anchor="middle">70</text>
<text transform="translate(1210.98,679.90) scale(1,1.040)" font-size="31.80" text-anchor="middle">80</text>
<text transform="translate(1260.39,679.90) scale(1,1.040)" font-size="31.80" text-anchor="middle">90</text>
<text transform="translate(1309.80,679.90) scale(1,1.040)" font-size="31.80" text-anchor="middle">100</text>
<text transform="translate(944.70,719.80) scale(1,1.040)" font-size="31.80" textLength="196.0" lengthAdjust="spacing">Out of sample</text>
<text transform="translate(1149.30,719.8) scale(1.05,1.040)" font-size="31.80" font-style="italic">R</text>
<text transform="translate(1176.20,704.20) scale(1,1.040)" font-size="22.30">2</text>
<text transform="translate(718.50,457.40) rotate(-90) scale(1,1.040)" font-size="31.80" textLength="164.3" lengthAdjust="spacing">% sites with</text>
<text transform="translate(718.50,276.70) rotate(-90) scale(1,1.040)" font-size="31.80">&gt;</text>
<text transform="translate(718.50,251.9) rotate(-90) scale(1.09,1.040)" font-size="31.80" font-style="italic">R</text>
<text transform="translate(703.00,224.50) rotate(-90) scale(1,1.040)" font-size="22.30">2</text>
<text transform="translate(1146.20,108.70) scale(1,1.040)" font-size="31.80">Predictor</text>
<rect x="1147.3" y="128.1" width="7.6" height="25.2" fill="#fff"/>
<rect x="1148.2" y="137.3" width="5.8" height="5.8" fill="#238B45"/>
<text transform="translate(1169.80,149.70) scale(1,1.040)" font-size="27.00">Genetics</text>
<rect x="1147.3" y="153.2" width="7.6" height="25.2" fill="#fff"/>
<rect x="1148.2" y="162.4" width="5.8" height="5.8" fill="#4292C6"/>
<text transform="translate(1169.80,174.85) scale(1,1.040)" font-size="27.00">Intrinsic</text>
<rect x="1147.3" y="178.4" width="7.6" height="25.2" fill="#fff"/>
<rect x="1148.2" y="187.6" width="5.8" height="5.8" fill="#CB181D"/>
<text transform="translate(1169.80,200.00) scale(1,1.040)" font-size="27.00">Exposures</text>
<rect x="1147.3" y="203.5" width="7.6" height="25.2" fill="#fff"/>
<rect x="1148.2" y="212.7" width="5.8" height="5.8" fill="#238B45"/>
<text transform="translate(1169.80,225.15) scale(1,1.040)" font-size="27.00">Genetic int.</text>
<text x="680.2" y="39.6" font-size="54" font-weight="bold">b</text>
</g>
<!-- panel c -->
<circle cx="1707.4" cy="360.2" r="144.8" fill="none" stroke="#EBEBEB" stroke-width="4.7"/>
<circle cx="1707.4" cy="360.2" r="180.9" fill="none" stroke="#EBEBEB" stroke-width="4.7"/>
<circle cx="1707.4" cy="360.2" r="217.1" fill="none" stroke="#EBEBEB" stroke-width="4.7"/>
<circle cx="1707.4" cy="360.2" r="253.2" fill="none" stroke="#EBEBEB" stroke-width="4.7"/>
<circle cx="1707.4" cy="360.2" r="289.4" fill="none" stroke="#EBEBEB" stroke-width="4.7"/>
<path d="M1707.4,113.0 L1708.7,115.7 L1709.9,117.9 L1711.2,119.9 L1712.4,121.3 L1713.7,122.1 L1714.9,122.8 L1716.1,123.4 L1717.3,123.8 L1718.6,124.2 L1719.8,124.5 L1721.0,124.7 L1722.2,125.0 L1723.5,125.2 L1724.7,125.5 L1725.9,125.7 L1727.1,125.9 L1728.4,126.1 L1729.6,126.3 L1730.8,126.6 L1732.0,126.8 L1733.2,127.0 L1734.4,127.3 L1735.6,127.5 L1736.9,127.8 L1738.1,128.1 L1739.3,128.4 L1740.5,128.7 L1741.6,129.1 L1742.8,129.4 L1744.0,129.7 L1745.2,130.1 L1746.4,130.4 L1747.6,130.8 L1748.8,131.2 L1749.9,131.5 L1751.1,131.9 L1752.3,132.3 L1753.4,132.7 L1754.6,133.1 L1755.8,133.5 L1756.9,133.9 L1758.1,134.3 L1759.2,134.7 L1760.4,135.2 L1761.5,135.6 L1762.7,136.0 L1763.8,136.5 L1764.9,136.9 L1766.1,137.4 L1767.2,137.8 L1768.3,138.3 L1769.4,138.8 L1770.6,139.2 L1771.7,139.7 L1772.8,140.2 L1773.9,140.7 L1775.0,141.2 L1776.1,141.7 L1777.2,142.2 L1778.3,142.7 L1779.4,143.2 L1780.5,143.7 L1781.6,144.2 L1782.7,144.8 L1783.8,145.3 L1784.9,145.8 L1785.9,146.4 L1787.0,146.9 L1788.1,147.5 L1789.1,148.0 L1790.2,148.6 L1791.3,149.2 L1792.3,149.7 L1793.4,150.3 L1794.4,150.9 L1795.5,151.5 L1796.5,152.1 L1797.5,152.7 L1798.6,153.3 L1799.6,153.9 L1800.6,154.5 L1801.7,155.1 L1802.7,155.7 L1803.7,156.3 L1804.7,157.0 L1805.7,157.6 L1806.7,158.2 L1807.7,158.8 L1808.7,159.5 L1809.7,160.1 L1810.7,160.8 L1811.7,161.4 L1812.7,162.1 L1813.7,162.7 L1814.7,163.4 L1815.7,164.0 L1816.6,164.7 L1817.6,165.4 L1818.6,166.1 L1819.5,166.8 L1820.5,167.4 L1821.5,168.1 L1822.4,168.8 L1823.3,169.5 L1824.3,170.2 L1825.2,170.9 L1826.2,171.7 L1827.1,172.4 L1828.0,173.1 L1828.9,173.8 L1829.9,174.6 L1830.8,175.3 L1831.7,176.0 L1832.6,176.8 L1833.5,177.5 L1834.4,178.2 L1835.3,179.0 L1836.2,179.7 L1837.1,180.5 L1838.0,181.2 L1838.9,182.0 L1839.8,182.8 L1840.6,183.5 L1841.5,184.3 L1842.4,185.1 L1843.3,185.8 L1844.1,186.6 L1845.0,187.4 L1845.9,188.2 L1846.7,189.0 L1847.6,189.7 L1848.4,190.5 L1849.3,191.3 L1850.1,192.1 L1851.0,192.9 L1851.8,193.7 L1852.7,194.5 L1853.5,195.3 L1854.3,196.1 L1855.1,196.9 L1856.0,197.7 L1856.8,198.5 L1857.6,199.4 L1858.4,200.2 L1859.2,201.0 L1860.0,201.8 L1860.8,202.7 L1861.6,203.5 L1862.4,204.4 L1863.2,205.2 L1864.0,206.0 L1864.8,206.9 L1865.6,207.7 L1866.3,208.6 L1867.1,209.5 L1867.9,210.3 L1868.6,211.2 L1869.4,212.1 L1870.1,212.9 L1870.9,213.8 L1871.6,214.7 L1872.4,215.6 L1873.1,216.5 L1873.8,217.4 L1874.6,218.3 L1875.3,219.2 L1876.0,220.1 L1876.7,221.0 L1877.4,221.9 L1878.1,222.8 L1878.8,223.7 L1879.5,224.6 L1880.2,225.5 L1880.9,226.5 L1881.6,227.4 L1882.3,228.3 L1882.9,229.3 L1883.6,230.2 L1884.3,231.1 L1884.9,232.1 L1885.6,233.0 L1886.2,234.0 L1886.9,234.9 L1887.5,235.9 L1888.2,236.8 L1888.8,237.8 L1889.4,238.7 L1890.1,239.7 L1890.7,240.7 L1891.3,241.6 L1891.9,242.6 L1892.5,243.6 L1893.1,244.6 L1893.7,245.5 L1894.3,246.5 L1894.9,247.5 L1895.5,248.5 L1896.1,249.5 L1896.6,250.5 L1897.2,251.5 L1897.8,252.5 L1898.3,253.5 L1898.9,254.5 L1899.4,255.5 L1900.0,256.5 L1900.5,257.6 L1901.0,258.6 L1901.5,259.6 L1902.1,260.6 L1902.6,261.7 L1903.1,262.7 L1903.6,263.7 L1904.1,264.8 L1904.6,265.8 L1905.0,266.8 L1905.5,267.9 L1906.0,268.9 L1906.5,270.0 L1906.9,271.0 L1907.4,272.1 L1907.8,273.1 L1908.3,274.2 L1908.7,275.3 L1909.1,276.3 L1909.6,277.4 L1910.0,278.5 L1910.4,279.5 L1910.8,280.6 L1911.2,281.7 L1911.6,282.8 L1912.0,283.8 L1912.4,284.9 L1912.8,286.0 L1913.1,287.1 L1913.5,288.2 L1913.8,289.3 L1914.2,290.4 L1914.6,291.4 L1914.9,292.5 L1915.2,293.6 L1915.6,294.7 L1915.9,295.8 L1916.2,296.9 L1916.5,298.0 L1916.8,299.1 L1917.1,300.3 L1917.4,301.4 L1917.7,302.5 L1918.0,303.6 L1918.2,304.7 L1918.5,305.8 L1918.7,306.9 L1919.0,308.0 L1919.2,309.2 L1919.5,310.3 L1919.7,311.4 L1919.9,312.5 L1920.2,313.7 L1920.4,314.8 L1920.6,315.9 L1920.8,317.0 L1921.0,318.2 L1921.2,319.3 L1921.4,320.4 L1921.5,321.5 L1921.7,322.7 L1921.9,323.8 L1922.1,324.9 L1922.2,326.1 L1922.4,327.2 L1922.5,328.3 L1922.7,329.5 L1922.8,330.6 L1922.9,331.7 L1923.1,332.9 L1923.2,334.0 L1923.3,335.1 L1923.4,336.3 L1923.5,337.4 L1923.6,338.5 L1923.7,339.7 L1923.8,340.8 L1923.9,342.0 L1924.0,343.1 L1924.0,344.2 L1924.1,345.4 L1924.1,346.5 L1924.2,347.7 L1924.2,348.8 L1924.3,349.9 L1924.3,351.1 L1924.4,352.2 L1924.4,353.4 L1924.4,354.5 L1924.4,355.6 L1924.4,356.8 L1924.4,357.9 L1924.4,359.1 L1924.4,360.2 L1851.7,360.2 L1851.7,359.4 L1851.7,358.7 L1851.7,357.9 L1851.7,357.2 L1851.7,356.4 L1851.6,355.7 L1851.6,354.9 L1851.6,354.1 L1851.5,353.4 L1851.5,352.6 L1851.5,351.9 L1851.4,351.1 L1851.4,350.4 L1851.3,349.6 L1851.3,348.8 L1851.2,348.1 L1851.1,347.3 L1851.1,346.6 L1851.0,345.8 L1850.9,345.1 L1850.8,344.3 L1850.7,343.6 L1850.6,342.8 L1850.6,342.1 L1850.5,341.3 L1850.4,340.6 L1850.3,339.8 L1850.1,339.1 L1850.0,338.3 L1849.9,337.6 L1849.8,336.8 L1849.7,336.1 L1849.5,335.3 L1849.4,334.6 L1849.3,333.8 L1849.1,333.1 L1849.0,332.3 L1848.8,331.6 L1848.7,330.8 L1848.5,330.1 L1848.4,329.4 L1848.2,328.6 L1848.0,327.9 L1847.9,327.1 L1847.7,326.4 L1847.5,325.7 L1847.3,324.9 L1847.1,324.2 L1846.9,323.5 L1846.8,322.7 L1846.6,322.0 L1846.3,321.3 L1846.1,320.5 L1845.9,319.8 L1845.7,319.1 L1845.5,318.4 L1845.3,317.6 L1845.1,316.9 L1844.8,316.2 L1844.6,315.5 L1844.4,314.7 L1844.1,314.0 L1843.9,313.3 L1843.6,312.6 L1843.4,311.9 L1843.1,311.2 L1842.9,310.5 L1842.6,309.7 L1842.3,309.0 L1842.1,308.3 L1841.8,307.6 L1841.5,306.9 L1841.2,306.2 L1840.9,305.5 L1840.6,304.8 L1840.4,304.1 L1840.1,303.4 L1839.8,302.7 L1839.4,302.0 L1839.1,301.3 L1838.8,300.6 L1838.5,299.9 L1838.2,299.3 L1837.9,298.6 L1837.6,297.9 L1837.2,297.2 L1836.9,296.5 L1836.6,295.8 L1836.2,295.2 L1835.9,294.5 L1835.5,293.8 L1835.2,293.1 L1834.8,292.5 L1834.5,291.8 L1834.1,291.1 L1833.7,290.5 L1833.4,289.8 L1833.0,289.1 L1832.6,288.5 L1832.2,287.8 L1831.9,287.2 L1831.5,286.5 L1831.1,285.9 L1830.7,285.2 L1830.3,284.6 L1829.9,283.9 L1829.5,283.3 L1829.1,282.6 L1828.7,282.0 L1828.3,281.4 L1827.9,280.7 L1827.4,280.1 L1827.0,279.5 L1826.6,278.9 L1826.2,278.2 L1825.7,277.6 L1825.3,277.0 L1824.8,276.4 L1824.4,275.8 L1824.0,275.1 L1823.5,274.5 L1823.1,273.9 L1822.6,273.3 L1822.1,272.7 L1821.7,272.1 L1821.2,271.5 L1820.8,270.9 L1820.3,270.3 L1819.8,269.7 L1819.3,269.1 L1818.9,268.5 L1818.4,268.0 L1817.9,267.4 L1817.4,266.8 L1816.9,266.2 L1816.4,265.7 L1815.9,265.1 L1815.4,264.5 L1814.9,263.9 L1814.4,263.4 L1813.9,262.8 L1813.4,262.3 L1812.9,261.7 L1812.3,261.2 L1811.8,260.6 L1811.3,260.1 L1810.8,259.5 L1810.2,259.0 L1809.7,258.4 L1809.2,257.9 L1808.6,257.4 L1808.1,256.8 L1807.5,256.3 L1807.0,255.8 L1806.4,255.3 L1805.9,254.7 L1805.3,254.2 L1804.8,253.7 L1804.2,253.2 L1803.7,252.7 L1803.1,252.2 L1802.5,251.7 L1801.9,251.2 L1801.4,250.7 L1800.8,250.2 L1800.2,249.7 L1799.6,249.2 L1799.1,248.7 L1798.5,248.3 L1797.9,247.8 L1797.3,247.3 L1796.7,246.8 L1796.1,246.4 L1795.5,245.9 L1794.9,245.5 L1794.3,245.0 L1793.7,244.5 L1793.1,244.1 L1792.5,243.6 L1791.8,243.2 L1791.2,242.8 L1790.6,242.3 L1790.0,241.9 L1789.4,241.4 L1788.7,241.0 L1788.1,240.6 L1787.5,240.2 L1786.9,239.7 L1786.2,239.3 L1785.6,238.9 L1785.0,238.5 L1784.3,238.1 L1783.7,237.7 L1783.0,237.3 L1782.4,236.9 L1781.7,236.5 L1781.1,236.1 L1780.4,235.7 L1779.8,235.4 L1779.1,235.0 L1778.5,234.6 L1777.8,234.2 L1777.1,233.9 L1776.5,233.5 L1775.8,233.1 L1775.1,232.8 L1774.5,232.4 L1773.8,232.1 L1773.1,231.7 L1772.4,231.4 L1771.8,231.0 L1771.1,230.7 L1770.4,230.4 L1769.7,230.0 L1769.0,229.7 L1768.3,229.4 L1767.7,229.1 L1767.0,228.8 L1766.3,228.5 L1765.6,228.2 L1764.9,227.8 L1764.2,227.5 L1763.5,227.2 L1762.8,227.0 L1762.1,226.7 L1761.4,226.4 L1760.7,226.1 L1760.0,225.8 L1759.3,225.5 L1758.6,225.3 L1757.9,225.0 L1757.1,224.7 L1756.4,224.5 L1755.7,224.2 L1755.0,224.0 L1754.3,223.7 L1753.6,223.5 L1752.9,223.2 L1752.1,223.0 L1751.4,222.8 L1750.7,222.5 L1750.0,222.3 L1749.2,222.1 L1748.5,221.9 L1747.8,221.7 L1747.1,221.5 L1746.3,221.3 L1745.6,221.0 L1744.9,220.8 L1744.1,220.7 L1743.4,220.5 L1742.7,220.3 L1741.9,220.1 L1741.2,219.9 L1740.5,219.7 L1739.7,219.6 L1739.0,219.4 L1738.2,219.2 L1737.5,219.1 L1736.8,218.9 L1736.0,218.8 L1735.3,218.6 L1734.5,218.5 L1733.8,218.3 L1733.0,218.2 L1732.3,218.1 L1731.5,217.9 L1730.8,217.8 L1730.0,217.7 L1729.3,217.6 L1728.5,217.5 L1727.8,217.3 L1727.0,217.2 L1726.3,217.1 L1725.5,217.0 L1724.8,217.0 L1724.0,216.9 L1723.3,216.8 L1722.5,216.7 L1721.8,216.6 L1721.0,216.5 L1720.3,216.5 L1719.5,216.4 L1718.8,216.3 L1718.0,216.3 L1717.2,216.2 L1716.5,216.2 L1715.7,216.1 L1715.0,216.1 L1714.2,216.1 L1713.5,216.0 L1712.7,216.0 L1711.9,216.0 L1711.2,215.9 L1710.4,215.9 L1709.7,215.9 L1708.9,215.9 L1708.2,215.9 L1707.4,215.9Z" fill="#FD8D3C"/>
<path d="M1707.4,644.5 L1705.9,642.9 L1704.4,641.3 L1703.0,639.7 L1701.6,638.2 L1700.1,636.7 L1698.7,635.2 L1697.3,633.7 L1696.0,632.3 L1694.6,631.0 L1693.2,629.6 L1691.9,628.4 L1690.6,627.1 L1689.2,625.8 L1687.9,624.6 L1686.6,623.4 L1685.3,622.2 L1684.0,621.0 L1682.8,619.9 L1681.5,618.7 L1680.2,617.7 L1679.0,616.6 L1677.8,615.5 L1676.5,614.5 L1675.3,613.5 L1674.1,612.5 L1672.9,611.5 L1671.6,610.6 L1670.4,609.6 L1669.3,608.6 L1668.1,607.7 L1666.9,606.7 L1665.7,605.8 L1664.6,604.9 L1663.4,604.0 L1662.2,603.0 L1661.1,602.1 L1660.0,601.2 L1658.8,600.3 L1657.7,599.4 L1656.6,598.5 L1655.5,597.6 L1654.4,596.7 L1653.3,595.8 L1652.2,594.9 L1651.1,594.0 L1650.0,593.1 L1648.9,592.2 L1647.8,591.3 L1646.8,590.4 L1645.7,589.6 L1644.7,588.7 L1643.6,587.8 L1642.6,586.9 L1641.6,586.0 L1640.6,585.1 L1639.5,584.2 L1638.5,583.3 L1637.5,582.4 L1636.5,581.5 L1635.5,580.6 L1634.6,579.7 L1633.6,578.7 L1632.6,577.9 L1631.6,577.0 L1630.7,576.1 L1629.7,575.2 L1628.8,574.3 L1627.8,573.4 L1626.9,572.5 L1626.0,571.6 L1625.0,570.7 L1624.1,569.8 L1623.2,568.9 L1622.3,568.0 L1621.4,567.2 L1620.4,566.3 L1619.5,565.4 L1618.6,564.5 L1617.7,563.7 L1616.9,562.8 L1616.0,561.9 L1615.1,561.1 L1614.2,560.2 L1613.3,559.4 L1612.4,558.5 L1611.6,557.6 L1610.7,556.8 L1609.9,555.9 L1609.0,555.1 L1608.2,554.2 L1607.3,553.3 L1606.5,552.5 L1605.6,551.6 L1604.8,550.8 L1604.0,549.9 L1603.2,549.0 L1602.4,548.2 L1601.5,547.3 L1600.7,546.5 L1599.9,545.6 L1599.1,544.7 L1598.3,543.9 L1597.5,543.0 L1596.8,542.2 L1596.0,541.3 L1595.2,540.4 L1594.4,539.6 L1593.6,538.7 L1592.9,537.9 L1592.1,537.0 L1591.3,536.1 L1590.6,535.3 L1589.8,534.4 L1589.1,533.6 L1588.3,532.7 L1587.6,531.8 L1586.8,531.0 L1586.1,530.1 L1585.4,529.3 L1584.6,528.4 L1583.9,527.6 L1583.2,526.7 L1582.5,525.8 L1581.8,525.0 L1581.1,524.1 L1580.3,523.2 L1579.6,522.4 L1579.0,521.5 L1578.3,520.7 L1577.6,519.8 L1576.9,518.9 L1576.2,518.0 L1575.5,517.2 L1574.8,516.3 L1574.2,515.4 L1573.5,514.6 L1572.9,513.7 L1572.2,512.8 L1571.5,511.9 L1570.9,511.1 L1570.2,510.2 L1569.6,509.3 L1569.0,508.4 L1568.3,507.6 L1567.7,506.7 L1567.1,505.8 L1566.4,504.9 L1565.8,504.0 L1565.2,503.2 L1564.6,502.3 L1564.0,501.4 L1563.4,500.5 L1562.8,499.6 L1562.2,498.7 L1561.6,497.8 L1561.0,497.0 L1560.4,496.1 L1559.8,495.2 L1559.2,494.3 L1558.6,493.4 L1558.1,492.5 L1557.5,491.6 L1556.9,490.7 L1556.3,489.8 L1555.8,488.9 L1555.2,488.0 L1554.7,487.1 L1554.1,486.2 L1553.6,485.3 L1553.0,484.4 L1552.5,483.5 L1552.0,482.6 L1551.4,481.7 L1550.9,480.8 L1550.4,479.9 L1549.9,479.0 L1549.4,478.1 L1548.9,477.2 L1548.4,476.3 L1547.9,475.3 L1547.4,474.4 L1546.9,473.5 L1546.4,472.6 L1545.9,471.7 L1545.4,470.8 L1544.9,469.8 L1544.5,468.9 L1544.0,468.0 L1543.5,467.1 L1543.1,466.1 L1542.6,465.2 L1542.2,464.3 L1541.7,463.4 L1541.3,462.4 L1540.8,461.5 L1540.4,460.6 L1540.0,459.6 L1539.5,458.7 L1539.1,457.8 L1538.7,456.8 L1538.3,455.9 L1537.9,454.9 L1537.5,454.0 L1537.1,453.1 L1536.7,452.1 L1536.3,451.2 L1535.9,450.2 L1535.5,449.3 L1535.1,448.3 L1534.7,447.4 L1534.4,446.4 L1534.0,445.5 L1533.6,444.5 L1533.3,443.6 L1532.9,442.6 L1532.6,441.7 L1532.2,440.7 L1531.9,439.8 L1531.5,438.8 L1531.2,437.8 L1530.9,436.9 L1530.6,435.9 L1530.2,434.9 L1529.9,434.0 L1529.6,433.0 L1529.3,432.1 L1529.0,431.1 L1528.7,430.1 L1528.4,429.1 L1528.2,428.2 L1527.9,427.2 L1527.6,426.2 L1527.3,425.3 L1527.1,424.3 L1526.8,423.3 L1526.6,422.3 L1526.3,421.4 L1526.1,420.4 L1525.9,419.4 L1525.6,418.4 L1525.4,417.4 L1525.2,416.5 L1525.0,415.5 L1524.8,414.5 L1524.5,413.5 L1524.3,412.5 L1524.2,411.5 L1524.0,410.6 L1523.8,409.6 L1523.6,408.6 L1523.4,407.6 L1523.2,406.6 L1523.1,405.6 L1522.9,404.6 L1522.7,403.7 L1522.6,402.7 L1522.4,401.7 L1522.3,400.7 L1522.2,399.7 L1522.0,398.7 L1521.9,397.7 L1521.8,396.7 L1521.6,395.8 L1521.5,394.8 L1521.4,393.8 L1521.3,392.8 L1521.2,391.8 L1521.1,390.8 L1521.0,389.8 L1520.9,388.8 L1520.8,387.8 L1520.8,386.9 L1520.7,385.9 L1520.6,384.9 L1520.6,383.9 L1520.5,382.9 L1520.4,381.9 L1520.4,380.9 L1520.3,379.9 L1520.3,378.9 L1520.3,377.9 L1520.2,377.0 L1520.2,376.0 L1520.2,375.0 L1520.2,374.0 L1520.1,373.0 L1520.1,372.0 L1520.1,371.0 L1520.1,370.0 L1520.1,369.1 L1520.2,368.1 L1520.2,367.1 L1520.2,366.1 L1520.2,365.1 L1520.2,364.1 L1520.3,363.1 L1520.3,362.2 L1520.4,361.2 L1520.4,360.2 L1563.1,360.2 L1563.1,361.0 L1563.1,361.7 L1563.1,362.5 L1563.1,363.2 L1563.1,364.0 L1563.2,364.7 L1563.2,365.5 L1563.2,366.3 L1563.3,367.0 L1563.3,367.8 L1563.3,368.5 L1563.4,369.3 L1563.4,370.0 L1563.5,370.8 L1563.5,371.6 L1563.6,372.3 L1563.7,373.1 L1563.7,373.8 L1563.8,374.6 L1563.9,375.3 L1564.0,376.1 L1564.1,376.8 L1564.2,377.6 L1564.2,378.3 L1564.3,379.1 L1564.4,379.8 L1564.5,380.6 L1564.7,381.3 L1564.8,382.1 L1564.9,382.8 L1565.0,383.6 L1565.1,384.3 L1565.3,385.1 L1565.4,385.8 L1565.5,386.6 L1565.7,387.3 L1565.8,388.1 L1566.0,388.8 L1566.1,389.6 L1566.3,390.3 L1566.4,391.0 L1566.6,391.8 L1566.8,392.5 L1566.9,393.3 L1567.1,394.0 L1567.3,394.7 L1567.5,395.5 L1567.7,396.2 L1567.9,396.9 L1568.0,397.7 L1568.2,398.4 L1568.5,399.1 L1568.7,399.9 L1568.9,400.6 L1569.1,401.3 L1569.3,402.0 L1569.5,402.8 L1569.7,403.5 L1570.0,404.2 L1570.2,404.9 L1570.4,405.7 L1570.7,406.4 L1570.9,407.1 L1571.2,407.8 L1571.4,408.5 L1571.7,409.2 L1571.9,409.9 L1572.2,410.7 L1572.5,411.4 L1572.7,412.1 L1573.0,412.8 L1573.3,413.5 L1573.6,414.2 L1573.9,414.9 L1574.2,415.6 L1574.4,416.3 L1574.7,417.0 L1575.0,417.7 L1575.4,418.4 L1575.7,419.1 L1576.0,419.8 L1576.3,420.5 L1576.6,421.1 L1576.9,421.8 L1577.2,422.5 L1577.6,423.2 L1577.9,423.9 L1578.2,424.6 L1578.6,425.2 L1578.9,425.9 L1579.3,426.6 L1579.6,427.3 L1580.0,427.9 L1580.3,428.6 L1580.7,429.3 L1581.1,429.9 L1581.4,430.6 L1581.8,431.3 L1582.2,431.9 L1582.6,432.6 L1582.9,433.2 L1583.3,433.9 L1583.7,434.5 L1584.1,435.2 L1584.5,435.8 L1584.9,436.5 L1585.3,437.1 L1585.7,437.8 L1586.1,438.4 L1586.5,439.0 L1586.9,439.7 L1587.4,440.3 L1587.8,440.9 L1588.2,441.5 L1588.6,442.2 L1589.1,442.8 L1589.5,443.4 L1590.0,444.0 L1590.4,444.6 L1590.8,445.3 L1591.3,445.9 L1591.7,446.5 L1592.2,447.1 L1592.7,447.7 L1593.1,448.3 L1593.6,448.9 L1594.0,449.5 L1594.5,450.1 L1595.0,450.7 L1595.5,451.3 L1595.9,451.9 L1596.4,452.4 L1596.9,453.0 L1597.4,453.6 L1597.9,454.2 L1598.4,454.7 L1598.9,455.3 L1599.4,455.9 L1599.9,456.5 L1600.4,457.0 L1600.9,457.6 L1601.4,458.1 L1601.9,458.7 L1602.5,459.2 L1603.0,459.8 L1603.5,460.3 L1604.0,460.9 L1604.6,461.4 L1605.1,462.0 L1605.6,462.5 L1606.2,463.0 L1606.7,463.6 L1607.3,464.1 L1607.8,464.6 L1608.4,465.1 L1608.9,465.7 L1609.5,466.2 L1610.0,466.7 L1610.6,467.2 L1611.1,467.7 L1611.7,468.2 L1612.3,468.7 L1612.9,469.2 L1613.4,469.7 L1614.0,470.2 L1614.6,470.7 L1615.2,471.2 L1615.7,471.7 L1616.3,472.1 L1616.9,472.6 L1617.5,473.1 L1618.1,473.6 L1618.7,474.0 L1619.3,474.5 L1619.9,474.9 L1620.5,475.4 L1621.1,475.9 L1621.7,476.3 L1622.3,476.8 L1623.0,477.2 L1623.6,477.6 L1624.2,478.1 L1624.8,478.5 L1625.4,479.0 L1626.1,479.4 L1626.7,479.8 L1627.3,480.2 L1627.9,480.7 L1628.6,481.1 L1629.2,481.5 L1629.8,481.9 L1630.5,482.3 L1631.1,482.7 L1631.8,483.1 L1632.4,483.5 L1633.1,483.9 L1633.7,484.3 L1634.4,484.7 L1635.0,485.0 L1635.7,485.4 L1636.3,485.8 L1637.0,486.2 L1637.7,486.5 L1638.3,486.9 L1639.0,487.3 L1639.7,487.6 L1640.3,488.0 L1641.0,488.3 L1641.7,488.7 L1642.4,489.0 L1643.0,489.4 L1643.7,489.7 L1644.4,490.0 L1645.1,490.4 L1645.8,490.7 L1646.5,491.0 L1647.1,491.3 L1647.8,491.6 L1648.5,491.9 L1649.2,492.2 L1649.9,492.6 L1650.6,492.9 L1651.3,493.2 L1652.0,493.4 L1652.7,493.7 L1653.4,494.0 L1654.1,494.3 L1654.8,494.6 L1655.5,494.9 L1656.2,495.1 L1656.9,495.4 L1657.7,495.7 L1658.4,495.9 L1659.1,496.2 L1659.8,496.4 L1660.5,496.7 L1661.2,496.9 L1661.9,497.2 L1662.7,497.4 L1663.4,497.6 L1664.1,497.9 L1664.8,498.1 L1665.6,498.3 L1666.3,498.5 L1667.0,498.7 L1667.7,498.9 L1668.5,499.1 L1669.2,499.4 L1669.9,499.6 L1670.7,499.7 L1671.4,499.9 L1672.1,500.1 L1672.9,500.3 L1673.6,500.5 L1674.3,500.7 L1675.1,500.8 L1675.8,501.0 L1676.6,501.2 L1677.3,501.3 L1678.0,501.5 L1678.8,501.6 L1679.5,501.8 L1680.3,501.9 L1681.0,502.1 L1681.8,502.2 L1682.5,502.3 L1683.3,502.5 L1684.0,502.6 L1684.8,502.7 L1685.5,502.8 L1686.3,502.9 L1687.0,503.1 L1687.8,503.2 L1688.5,503.3 L1689.3,503.4 L1690.0,503.4 L1690.8,503.5 L1691.5,503.6 L1692.3,503.7 L1693.0,503.8 L1693.8,503.9 L1694.5,503.9 L1695.3,504.0 L1696.0,504.1 L1696.8,504.1 L1697.6,504.2 L1698.3,504.2 L1699.1,504.3 L1699.8,504.3 L1700.6,504.3 L1701.3,504.4 L1702.1,504.4 L1702.9,504.4 L1703.6,504.5 L1704.4,504.5 L1705.1,504.5 L1705.9,504.5 L1706.6,504.5 L1707.4,504.5Z" fill="#238B45"/>
<path d="M1423.8,360.2 L1448.0,359.5 L1462.9,358.9 L1473.9,358.4 L1480.7,357.8 L1485.5,357.3 L1489.2,356.8 L1492.0,356.2 L1494.1,355.7 L1496.1,355.2 L1497.9,354.7 L1499.5,354.2 L1501.0,353.7 L1502.3,353.2 L1503.5,352.7 L1504.5,352.2 L1505.5,351.7 L1506.3,351.2 L1507.1,350.7 L1507.9,350.3 L1508.6,349.8 L1509.3,349.3 L1510.0,348.8 L1510.7,348.3 L1511.3,347.8 L1512.0,347.4 L1512.6,346.9 L1513.1,346.4 L1513.7,346.0 L1514.2,345.5 L1514.7,345.0 L1515.2,344.5 L1515.7,344.1 L1516.2,343.6 L1516.6,343.1 L1517.1,342.7 L1517.5,342.2 L1517.9,341.8 L1518.3,341.3 L1518.7,340.8 L1519.0,340.4 L1519.4,339.9 L1519.7,339.4 L1520.1,339.0 L1520.4,338.5 L1520.7,338.1 L1521.0,337.6 L1521.3,337.2 L1521.6,336.7 L1521.9,336.2 L1522.2,335.8 L1522.5,335.3 L1522.8,334.9 L1523.1,334.4 L1523.4,334.0 L1523.7,333.5 L1523.9,333.1 L1524.2,332.6 L1524.5,332.2 L1524.7,331.7 L1525.0,331.3 L1525.2,330.8 L1525.5,330.4 L1525.7,329.9 L1526.0,329.5 L1526.2,329.0 L1526.5,328.6 L1526.7,328.1 L1527.0,327.7 L1527.2,327.2 L1527.5,326.8 L1527.7,326.4 L1527.9,325.9 L1528.2,325.5 L1528.4,325.0 L1528.7,324.6 L1528.9,324.1 L1529.1,323.7 L1529.4,323.3 L1529.6,322.8 L1529.8,322.4 L1530.1,322.0 L1530.3,321.5 L1530.6,321.1 L1530.8,320.7 L1531.0,320.2 L1531.3,319.8 L1531.5,319.4 L1531.8,318.9 L1532.0,318.5 L1532.3,318.1 L1532.5,317.7 L1532.8,317.2 L1533.0,316.8 L1533.3,316.4 L1533.6,316.0 L1533.8,315.6 L1534.1,315.1 L1534.4,314.7 L1534.6,314.3 L1534.9,313.9 L1535.2,313.5 L1535.5,313.1 L1535.7,312.7 L1536.0,312.3 L1536.3,311.9 L1536.6,311.4 L1536.8,311.0 L1537.1,310.6 L1537.4,310.2 L1537.7,309.8 L1537.9,309.4 L1538.2,309.0 L1538.5,308.6 L1538.8,308.2 L1539.1,307.8 L1539.3,307.4 L1539.6,307.0 L1539.9,306.6 L1540.2,306.3 L1540.5,305.9 L1540.7,305.5 L1541.0,305.1 L1541.3,304.7 L1541.6,304.3 L1541.9,303.9 L1542.1,303.5 L1542.4,303.1 L1542.7,302.7 L1543.0,302.4 L1543.3,302.0 L1543.6,301.6 L1543.8,301.2 L1544.1,300.8 L1544.4,300.4 L1544.7,300.1 L1545.0,299.7 L1545.3,299.3 L1545.5,298.9 L1545.8,298.6 L1546.1,298.2 L1546.4,297.8 L1546.7,297.4 L1547.0,297.1 L1547.3,296.7 L1547.5,296.3 L1547.8,295.9 L1548.1,295.6 L1548.4,295.2 L1548.7,294.8 L1549.0,294.5 L1549.3,294.1 L1549.6,293.7 L1549.8,293.4 L1550.1,293.0 L1550.4,292.6 L1550.7,292.3 L1551.0,291.9 L1551.3,291.5 L1551.6,291.2 L1551.9,290.8 L1552.2,290.5 L1552.5,290.1 L1552.7,289.8 L1553.0,289.4 L1553.3,289.0 L1553.6,288.7 L1553.9,288.3 L1554.2,288.0 L1554.5,287.6 L1554.8,287.3 L1555.1,286.9 L1555.4,286.6 L1555.7,286.2 L1556.0,285.9 L1556.3,285.5 L1556.6,285.2 L1556.9,284.8 L1557.2,284.5 L1557.5,284.1 L1557.8,283.8 L1558.0,283.5 L1558.3,283.1 L1558.6,282.8 L1558.9,282.4 L1559.2,282.1 L1559.5,281.8 L1559.8,281.4 L1560.1,281.1 L1560.4,280.7 L1560.7,280.4 L1561.0,280.1 L1561.3,279.7 L1561.6,279.4 L1561.9,279.1 L1562.2,278.7 L1562.5,278.4 L1562.8,278.0 L1563.1,277.7 L1563.4,277.4 L1563.7,277.1 L1564.0,276.7 L1564.3,276.4 L1564.6,276.1 L1564.9,275.7 L1565.2,275.4 L1565.5,275.1 L1565.8,274.7 L1566.1,274.4 L1566.4,274.1 L1566.7,273.8 L1567.0,273.4 L1567.3,273.1 L1567.6,272.8 L1567.9,272.5 L1568.2,272.2 L1568.5,271.8 L1568.8,271.5 L1569.1,271.2 L1569.4,270.9 L1569.7,270.6 L1570.0,270.2 L1570.3,269.9 L1570.6,269.6 L1570.9,269.3 L1571.2,269.0 L1571.5,268.7 L1571.8,268.4 L1572.1,268.1 L1572.4,267.7 L1572.7,267.4 L1573.0,267.1 L1573.3,266.8 L1573.6,266.5 L1574.0,266.2 L1574.3,265.9 L1574.6,265.6 L1574.9,265.3 L1575.2,265.0 L1575.5,264.7 L1575.8,264.4 L1576.1,264.1 L1576.5,263.8 L1576.8,263.5 L1577.1,263.2 L1577.4,262.9 L1577.7,262.6 L1578.0,262.3 L1578.4,262.0 L1578.7,261.7 L1579.0,261.5 L1579.3,261.2 L1579.6,260.9 L1580.0,260.6 L1580.3,260.3 L1580.6,260.0 L1580.9,259.7 L1581.3,259.4 L1581.6,259.2 L1581.9,258.9 L1582.2,258.6 L1582.5,258.3 L1582.9,258.0 L1583.2,257.8 L1583.5,257.5 L1583.8,257.2 L1584.2,256.9 L1584.5,256.6 L1584.8,256.4 L1585.1,256.1 L1585.5,255.8 L1585.8,255.5 L1586.1,255.3 L1586.5,255.0 L1586.8,254.7 L1587.1,254.4 L1587.4,254.2 L1587.8,253.9 L1588.1,253.6 L1588.4,253.4 L1588.7,253.1 L1589.1,252.8 L1589.4,252.6 L1589.7,252.3 L1590.0,252.0 L1590.4,251.8 L1590.7,251.5 L1591.0,251.2 L1591.4,251.0 L1591.7,250.7 L1592.0,250.4 L1592.3,250.2 L1592.7,249.9 L1593.0,249.6 L1593.3,249.4 L1593.7,249.1 L1594.0,248.9 L1594.3,248.6 L1594.7,248.3 L1595.0,248.1 L1595.3,247.8 L1595.7,247.6 L1596.0,247.3 L1596.3,247.1 L1596.6,246.8 L1597.0,246.5 L1597.3,246.3 L1597.6,246.0 L1598.0,245.8 L1598.3,245.5 L1598.7,245.3 L1599.0,245.0 L1599.3,244.8 L1599.7,244.5 L1600.0,244.3 L1600.3,244.1 L1600.7,243.8 L1601.0,243.6 L1601.3,243.3 L1601.7,243.1 L1602.0,242.8 L1602.4,242.6 L1602.7,242.4 L1603.0,242.1 L1603.4,241.9 L1603.7,241.7 L1604.1,241.4 L1604.4,241.2 L1604.8,241.0 L1605.1,240.7 L1605.5,240.5 L1605.8,240.3 L1606.1,240.0 L1606.5,239.8 L1606.8,239.6 L1607.2,239.3 L1607.5,239.1 L1607.9,238.9 L1608.2,238.7 L1608.6,238.4 L1608.9,238.2 L1609.3,238.0 L1609.6,237.8 L1610.0,237.6 L1610.3,237.3 L1610.7,237.1 L1611.0,236.9 L1611.4,236.7 L1611.7,236.5 L1612.1,236.3 L1612.4,236.0 L1612.8,235.8 L1613.1,235.6 L1613.5,235.4 L1613.8,235.2 L1614.2,235.0 L1614.5,234.8 L1614.9,234.5 L1615.2,234.3 L1615.6,234.1 L1615.9,233.9 L1616.3,233.7 L1616.6,233.5 L1617.0,233.3 L1617.3,233.1 L1617.7,232.8 L1618.0,232.6 L1618.4,232.4 L1618.8,232.2 L1619.1,232.0 L1619.5,231.8 L1619.8,231.6 L1620.2,231.4 L1620.5,231.2 L1620.9,231.0 L1621.2,230.8 L1621.6,230.6 L1621.9,230.4 L1622.3,230.1 L1622.6,229.9 L1623.0,229.7 L1623.3,229.5 L1623.7,229.3 L1624.1,229.1 L1624.4,228.9 L1624.8,228.7 L1625.1,228.6 L1625.5,228.4 L1625.8,228.2 L1626.2,228.0 L1626.6,227.8 L1626.9,227.6 L1627.3,227.4 L1627.6,227.2 L1628.0,227.0 L1628.4,226.8 L1628.7,226.6 L1629.1,226.5 L1629.5,226.3 L1629.8,226.1 L1630.2,225.9 L1630.5,225.7 L1630.9,225.5 L1631.3,225.4 L1631.6,225.2 L1632.0,225.0 L1632.4,224.8 L1632.7,224.7 L1633.1,224.5 L1633.5,224.3 L1633.9,224.2 L1634.2,224.0 L1634.6,223.8 L1635.0,223.7 L1635.3,223.5 L1635.7,223.3 L1636.1,223.2 L1636.5,223.0 L1636.8,222.9 L1637.2,222.7 L1637.6,222.5 L1637.9,222.4 L1638.3,222.2 L1638.7,222.1 L1639.1,221.9 L1639.4,221.8 L1639.8,221.6 L1640.2,221.4 L1640.6,221.3 L1640.9,221.1 L1641.3,221.0 L1641.7,220.8 L1642.1,220.7 L1642.4,220.5 L1642.8,220.4 L1643.2,220.2 L1643.6,220.1 L1643.9,219.9 L1644.3,219.8 L1644.7,219.6 L1645.1,219.5 L1645.4,219.3 L1645.8,219.2 L1646.2,219.0 L1646.6,218.9 L1646.9,218.7 L1647.3,218.6 L1647.7,218.4 L1648.1,218.3 L1648.4,218.1 L1648.8,218.0 L1649.2,217.8 L1649.6,217.7 L1649.9,217.5 L1650.3,217.4 L1650.7,217.3 L1651.1,217.1 L1651.5,217.0 L1651.8,216.8 L1652.2,216.7 L1652.6,216.6 L1653.0,216.4 L1653.4,216.3 L1653.7,216.2 L1654.1,216.0 L1654.5,215.9 L1654.9,215.8 L1655.3,215.7 L1655.6,215.5 L1656.0,215.4 L1656.4,215.3 L1656.8,215.1 L1657.2,215.0 L1657.6,214.9 L1657.9,214.8 L1658.3,214.7 L1658.7,214.5 L1659.1,214.4 L1659.5,214.3 L1659.9,214.2 L1660.3,214.1 L1660.7,214.0 L1661.0,213.9 L1661.4,213.8 L1661.8,213.6 L1662.2,213.5 L1662.6,213.4 L1663.0,213.3 L1663.4,213.2 L1663.8,213.1 L1664.1,213.0 L1664.5,212.9 L1664.9,212.8 L1665.3,212.7 L1665.7,212.6 L1666.1,212.5 L1666.5,212.4 L1666.9,212.3 L1667.3,212.2 L1667.7,212.1 L1668.0,212.0 L1668.4,212.0 L1668.8,211.9 L1669.2,211.8 L1669.6,211.7 L1670.0,211.6 L1670.4,211.5 L1670.8,211.4 L1671.2,211.3 L1671.6,211.2 L1672.0,211.1 L1672.4,211.1 L1672.8,211.0 L1673.1,210.9 L1673.5,210.8 L1673.9,210.7 L1674.3,210.6 L1674.7,210.5 L1675.1,210.5 L1675.5,210.4 L1675.9,210.3 L1676.3,210.2 L1676.7,210.2 L1677.1,210.1 L1677.5,210.0 L1677.9,209.9 L1678.3,209.9 L1678.7,209.8 L1679.1,209.7 L1679.4,209.6 L1679.8,209.6 L1680.2,209.5 L1680.6,209.4 L1681.0,209.4 L1681.4,209.3 L1681.8,209.2 L1682.2,209.2 L1682.6,209.1 L1683.0,209.1 L1683.4,209.0 L1683.8,208.9 L1684.2,208.9 L1684.6,208.8 L1685.0,208.8 L1685.4,208.7 L1685.8,208.7 L1686.2,208.6 L1686.6,208.6 L1687.0,208.5 L1687.4,208.5 L1687.8,208.4 L1688.2,208.4 L1688.6,208.3 L1689.0,208.3 L1689.4,208.2 L1689.8,208.2 L1690.2,208.2 L1690.6,208.1 L1691.0,208.1 L1691.4,208.0 L1691.8,208.0 L1692.2,208.0 L1692.6,207.9 L1693.0,207.9 L1693.4,207.9 L1693.8,207.8 L1694.2,207.8 L1694.6,207.8 L1695.0,207.7 L1695.4,207.7 L1695.8,207.7 L1696.2,207.7 L1696.6,207.6 L1697.0,207.6 L1697.4,207.6 L1697.8,207.6 L1698.2,207.6 L1698.6,207.5 L1699.0,207.5 L1699.4,207.5 L1699.8,207.5 L1700.2,207.5 L1700.6,207.5 L1701.0,207.4 L1701.4,207.4 L1701.8,207.4 L1702.2,207.4 L1702.6,207.4 L1703.0,207.4 L1703.4,207.4 L1703.8,207.4 L1704.2,207.4 L1704.6,207.4 L1705.0,207.4 L1705.4,207.4 L1705.8,207.4 L1706.2,207.4 L1706.6,207.4 L1707.0,207.4 L1707.4,207.4 L1707.4,215.9 L1707.0,215.9 L1706.6,215.9 L1706.3,215.9 L1705.9,215.9 L1705.5,215.9 L1705.1,215.9 L1704.8,215.9 L1704.4,215.9 L1704.0,215.9 L1703.6,215.9 L1703.2,216.0 L1702.9,216.0 L1702.5,216.0 L1702.1,216.0 L1701.7,216.0 L1701.3,216.0 L1701.0,216.0 L1700.6,216.1 L1700.2,216.1 L1699.8,216.1 L1699.5,216.1 L1699.1,216.1 L1698.7,216.2 L1698.3,216.2 L1697.9,216.2 L1697.6,216.2 L1697.2,216.3 L1696.8,216.3 L1696.4,216.3 L1696.1,216.3 L1695.7,216.4 L1695.3,216.4 L1694.9,216.4 L1694.6,216.5 L1694.2,216.5 L1693.8,216.5 L1693.4,216.6 L1693.0,216.6 L1692.7,216.7 L1692.3,216.7 L1691.9,216.7 L1691.5,216.8 L1691.2,216.8 L1690.8,216.9 L1690.4,216.9 L1690.0,216.9 L1689.7,217.0 L1689.3,217.0 L1688.9,217.1 L1688.5,217.1 L1688.2,217.2 L1687.8,217.2 L1687.4,217.3 L1687.0,217.3 L1686.7,217.4 L1686.3,217.5 L1685.9,217.5 L1685.5,217.6 L1685.2,217.6 L1684.8,217.7 L1684.4,217.7 L1684.0,217.8 L1683.7,217.9 L1683.3,217.9 L1682.9,218.0 L1682.5,218.1 L1682.2,218.1 L1681.8,218.2 L1681.4,218.3 L1681.1,218.3 L1680.7,218.4 L1680.3,218.5 L1679.9,218.5 L1679.6,218.6 L1679.2,218.7 L1678.8,218.8 L1678.5,218.8 L1678.1,218.9 L1677.7,219.0 L1677.3,219.1 L1677.0,219.1 L1676.6,219.2 L1676.2,219.3 L1675.9,219.4 L1675.5,219.5 L1675.1,219.6 L1674.8,219.6 L1674.4,219.7 L1674.0,219.8 L1673.7,219.9 L1673.3,220.0 L1672.9,220.1 L1672.6,220.2 L1672.2,220.3 L1671.8,220.4 L1671.5,220.4 L1671.1,220.5 L1670.7,220.6 L1670.4,220.7 L1670.0,220.8 L1669.6,220.9 L1669.3,221.0 L1668.9,221.1 L1668.5,221.2 L1668.2,221.3 L1667.8,221.4 L1667.4,221.5 L1667.1,221.6 L1666.7,221.8 L1666.4,221.9 L1666.0,222.0 L1665.6,222.1 L1665.3,222.2 L1664.9,222.3 L1664.5,222.4 L1664.2,222.5 L1663.8,222.6 L1663.5,222.8 L1663.1,222.9 L1662.7,223.0 L1662.4,223.1 L1662.0,223.2 L1661.7,223.3 L1661.3,223.5 L1660.9,223.6 L1660.6,223.7 L1660.2,223.8 L1659.9,224.0 L1659.5,224.1 L1659.2,224.2 L1658.8,224.3 L1658.4,224.5 L1658.1,224.6 L1657.7,224.7 L1657.4,224.8 L1657.0,225.0 L1656.7,225.1 L1656.3,225.2 L1656.0,225.4 L1655.6,225.5 L1655.3,225.7 L1654.9,225.8 L1654.5,225.9 L1654.2,226.1 L1653.8,226.2 L1653.5,226.3 L1653.1,226.5 L1652.8,226.6 L1652.4,226.8 L1652.1,226.9 L1651.7,227.1 L1651.4,227.2 L1651.0,227.4 L1650.7,227.5 L1650.3,227.7 L1650.0,227.8 L1649.7,228.0 L1649.3,228.1 L1649.0,228.3 L1648.6,228.4 L1648.3,228.6 L1647.9,228.7 L1647.6,228.9 L1647.2,229.0 L1646.9,229.2 L1646.5,229.4 L1646.2,229.5 L1645.9,229.7 L1645.5,229.8 L1645.2,230.0 L1644.8,230.2 L1644.5,230.3 L1644.2,230.5 L1643.8,230.7 L1643.5,230.8 L1643.1,231.0 L1642.8,231.2 L1642.5,231.3 L1642.1,231.5 L1641.8,231.7 L1641.5,231.9 L1641.1,232.0 L1640.8,232.2 L1640.4,232.4 L1640.1,232.6 L1639.8,232.7 L1639.4,232.9 L1639.1,233.1 L1638.8,233.3 L1638.4,233.4 L1638.1,233.6 L1637.8,233.8 L1637.4,234.0 L1637.1,234.2 L1636.8,234.4 L1636.5,234.5 L1636.1,234.7 L1635.8,234.9 L1635.5,235.1 L1635.1,235.3 L1634.8,235.5 L1634.5,235.7 L1634.2,235.9 L1633.8,236.1 L1633.5,236.3 L1633.2,236.4 L1632.9,236.6 L1632.5,236.8 L1632.2,237.0 L1631.9,237.2 L1631.6,237.4 L1631.2,237.6 L1630.9,237.8 L1630.6,238.0 L1630.3,238.2 L1630.0,238.4 L1629.6,238.6 L1629.3,238.8 L1629.0,239.0 L1628.7,239.3 L1628.4,239.5 L1628.1,239.7 L1627.7,239.9 L1627.4,240.1 L1627.1,240.3 L1626.8,240.5 L1626.5,240.7 L1626.2,240.9 L1625.9,241.1 L1625.5,241.4 L1625.2,241.6 L1624.9,241.8 L1624.6,242.0 L1624.3,242.2 L1624.0,242.4 L1623.7,242.7 L1623.4,242.9 L1623.1,243.1 L1622.8,243.3 L1622.5,243.5 L1622.2,243.8 L1621.8,244.0 L1621.5,244.2 L1621.2,244.4 L1620.9,244.7 L1620.6,244.9 L1620.3,245.1 L1620.0,245.4 L1619.7,245.6 L1619.4,245.8 L1619.1,246.0 L1618.8,246.3 L1618.5,246.5 L1618.2,246.7 L1617.9,247.0 L1617.6,247.2 L1617.3,247.4 L1617.1,247.7 L1616.8,247.9 L1616.5,248.2 L1616.2,248.4 L1615.9,248.6 L1615.6,248.9 L1615.3,249.1 L1615.0,249.4 L1614.7,249.6 L1614.4,249.8 L1614.1,250.1 L1613.8,250.3 L1613.6,250.6 L1613.3,250.8 L1613.0,251.1 L1612.7,251.3 L1612.4,251.6 L1612.1,251.8 L1611.8,252.1 L1611.6,252.3 L1611.3,252.6 L1611.0,252.8 L1610.7,253.1 L1610.4,253.3 L1610.2,253.6 L1609.9,253.8 L1609.6,254.1 L1609.3,254.4 L1609.0,254.6 L1608.8,254.9 L1608.5,255.1 L1608.2,255.4 L1607.9,255.7 L1607.7,255.9 L1607.4,256.2 L1607.1,256.4 L1606.8,256.7 L1606.6,257.0 L1606.3,257.2 L1606.0,257.5 L1605.8,257.8 L1605.5,258.0 L1605.2,258.3 L1605.0,258.6 L1604.7,258.8 L1604.4,259.1 L1604.2,259.4 L1603.9,259.6 L1603.6,259.9 L1603.4,260.2 L1603.1,260.5 L1602.9,260.7 L1602.6,261.0 L1602.3,261.3 L1602.1,261.6 L1601.8,261.8 L1601.6,262.1 L1601.3,262.4 L1601.0,262.7 L1600.8,263.0 L1600.5,263.2 L1600.3,263.5 L1600.0,263.8 L1599.8,264.1 L1599.5,264.4 L1599.3,264.6 L1599.0,264.9 L1598.8,265.2 L1598.5,265.5 L1598.3,265.8 L1598.0,266.1 L1597.8,266.4 L1597.5,266.6 L1597.3,266.9 L1597.0,267.2 L1596.8,267.5 L1596.6,267.8 L1596.3,268.1 L1596.1,268.4 L1595.8,268.7 L1595.6,269.0 L1595.4,269.3 L1595.1,269.6 L1594.9,269.9 L1594.6,270.1 L1594.4,270.4 L1594.2,270.7 L1593.9,271.0 L1593.7,271.3 L1593.5,271.6 L1593.2,271.9 L1593.0,272.2 L1592.8,272.5 L1592.6,272.8 L1592.3,273.1 L1592.1,273.4 L1591.9,273.7 L1591.6,274.0 L1591.4,274.3 L1591.2,274.6 L1591.0,275.0 L1590.7,275.3 L1590.5,275.6 L1590.3,275.9 L1590.1,276.2 L1589.9,276.5 L1589.6,276.8 L1589.4,277.1 L1589.2,277.4 L1589.0,277.7 L1588.8,278.0 L1588.6,278.3 L1588.3,278.7 L1588.1,279.0 L1587.9,279.3 L1587.7,279.6 L1587.5,279.9 L1587.3,280.2 L1587.1,280.5 L1586.9,280.9 L1586.7,281.2 L1586.5,281.5 L1586.2,281.8 L1586.0,282.1 L1585.8,282.4 L1585.6,282.8 L1585.4,283.1 L1585.2,283.4 L1585.0,283.7 L1584.8,284.0 L1584.6,284.4 L1584.4,284.7 L1584.2,285.0 L1584.0,285.3 L1583.8,285.7 L1583.6,286.0 L1583.5,286.3 L1583.3,286.6 L1583.1,287.0 L1582.9,287.3 L1582.7,287.6 L1582.5,287.9 L1582.3,288.3 L1582.1,288.6 L1581.9,288.9 L1581.7,289.3 L1581.6,289.6 L1581.4,289.9 L1581.2,290.2 L1581.0,290.6 L1580.8,290.9 L1580.6,291.2 L1580.5,291.6 L1580.3,291.9 L1580.1,292.2 L1579.9,292.6 L1579.8,292.9 L1579.6,293.2 L1579.4,293.6 L1579.2,293.9 L1579.1,294.3 L1578.9,294.6 L1578.7,294.9 L1578.5,295.3 L1578.4,295.6 L1578.2,295.9 L1578.0,296.3 L1577.9,296.6 L1577.7,297.0 L1577.5,297.3 L1577.4,297.6 L1577.2,298.0 L1577.0,298.3 L1576.9,298.7 L1576.7,299.0 L1576.6,299.3 L1576.4,299.7 L1576.2,300.0 L1576.1,300.4 L1575.9,300.7 L1575.8,301.1 L1575.6,301.4 L1575.5,301.8 L1575.3,302.1 L1575.2,302.5 L1575.0,302.8 L1574.9,303.1 L1574.7,303.5 L1574.6,303.8 L1574.4,304.2 L1574.3,304.5 L1574.1,304.9 L1574.0,305.2 L1573.8,305.6 L1573.7,305.9 L1573.5,306.3 L1573.4,306.6 L1573.3,307.0 L1573.1,307.3 L1573.0,307.7 L1572.9,308.1 L1572.7,308.4 L1572.6,308.8 L1572.4,309.1 L1572.3,309.5 L1572.2,309.8 L1572.0,310.2 L1571.9,310.5 L1571.8,310.9 L1571.7,311.2 L1571.5,311.6 L1571.4,312.0 L1571.3,312.3 L1571.2,312.7 L1571.0,313.0 L1570.9,313.4 L1570.8,313.7 L1570.7,314.1 L1570.5,314.5 L1570.4,314.8 L1570.3,315.2 L1570.2,315.5 L1570.1,315.9 L1570.0,316.3 L1569.8,316.6 L1569.7,317.0 L1569.6,317.3 L1569.5,317.7 L1569.4,318.1 L1569.3,318.4 L1569.2,318.8 L1569.1,319.2 L1569.0,319.5 L1568.8,319.9 L1568.7,320.2 L1568.6,320.6 L1568.5,321.0 L1568.4,321.3 L1568.3,321.7 L1568.2,322.1 L1568.1,322.4 L1568.0,322.8 L1567.9,323.2 L1567.8,323.5 L1567.7,323.9 L1567.6,324.3 L1567.6,324.6 L1567.5,325.0 L1567.4,325.4 L1567.3,325.7 L1567.2,326.1 L1567.1,326.5 L1567.0,326.8 L1566.9,327.2 L1566.8,327.6 L1566.8,327.9 L1566.7,328.3 L1566.6,328.7 L1566.5,329.0 L1566.4,329.4 L1566.3,329.8 L1566.3,330.1 L1566.2,330.5 L1566.1,330.9 L1566.0,331.3 L1566.0,331.6 L1565.9,332.0 L1565.8,332.4 L1565.7,332.7 L1565.7,333.1 L1565.6,333.5 L1565.5,333.9 L1565.5,334.2 L1565.4,334.6 L1565.3,335.0 L1565.3,335.3 L1565.2,335.7 L1565.1,336.1 L1565.1,336.5 L1565.0,336.8 L1564.9,337.2 L1564.9,337.6 L1564.8,338.0 L1564.8,338.3 L1564.7,338.7 L1564.7,339.1 L1564.6,339.5 L1564.5,339.8 L1564.5,340.2 L1564.4,340.6 L1564.4,341.0 L1564.3,341.3 L1564.3,341.7 L1564.2,342.1 L1564.2,342.5 L1564.1,342.8 L1564.1,343.2 L1564.1,343.6 L1564.0,344.0 L1564.0,344.3 L1563.9,344.7 L1563.9,345.1 L1563.9,345.5 L1563.8,345.8 L1563.8,346.2 L1563.7,346.6 L1563.7,347.0 L1563.7,347.4 L1563.6,347.7 L1563.6,348.1 L1563.6,348.5 L1563.5,348.9 L1563.5,349.2 L1563.5,349.6 L1563.5,350.0 L1563.4,350.4 L1563.4,350.7 L1563.4,351.1 L1563.4,351.5 L1563.3,351.9 L1563.3,352.3 L1563.3,352.6 L1563.3,353.0 L1563.3,353.4 L1563.2,353.8 L1563.2,354.1 L1563.2,354.5 L1563.2,354.9 L1563.2,355.3 L1563.2,355.7 L1563.2,356.0 L1563.1,356.4 L1563.1,356.8 L1563.1,357.2 L1563.1,357.6 L1563.1,357.9 L1563.1,358.3 L1563.1,358.7 L1563.1,359.1 L1563.1,359.4 L1563.1,359.8 L1563.1,360.2Z" fill="#4292C6"/>
<path d="M1881.1,360.2 L1876.0,360.4 L1871.3,360.6 L1867.6,360.7 L1865.1,360.9 L1863.5,361.1 L1862.1,361.2 L1861.0,361.4 L1860.1,361.5 L1859.4,361.7 L1858.9,361.9 L1858.5,362.0 L1858.1,362.2 L1857.8,362.4 L1857.5,362.5 L1857.2,362.7 L1857.0,362.8 L1856.8,363.0 L1856.6,363.2 L1856.5,363.3 L1856.4,363.5 L1856.3,363.7 L1856.2,363.8 L1856.1,364.0 L1856.0,364.1 L1856.0,364.3 L1855.9,364.5 L1855.8,364.6 L1855.7,364.8 L1855.7,365.0 L1855.6,365.1 L1855.6,365.3 L1855.5,365.4 L1855.5,365.6 L1855.4,365.8 L1855.4,365.9 L1855.4,366.1 L1855.3,366.2 L1855.3,366.4 L1855.3,366.6 L1855.2,366.7 L1855.2,366.9 L1855.2,367.1 L1855.1,367.2 L1855.1,367.4 L1855.1,367.5 L1855.1,367.7 L1855.0,367.9 L1855.0,368.0 L1855.0,368.2 L1855.0,368.4 L1854.9,368.5 L1854.9,368.7 L1854.9,368.8 L1854.9,369.0 L1854.9,369.2 L1854.8,369.3 L1854.8,369.5 L1854.8,369.7 L1854.8,369.8 L1854.7,370.0 L1854.7,370.1 L1854.7,370.3 L1854.7,370.5 L1854.7,370.6 L1854.6,370.8 L1854.6,371.0 L1854.6,371.1 L1854.6,371.3 L1854.6,371.4 L1854.5,371.6 L1854.5,371.8 L1854.5,371.9 L1854.5,372.1 L1854.5,372.2 L1854.5,372.4 L1854.4,372.6 L1854.4,372.7 L1854.4,372.9 L1854.4,373.1 L1854.3,374.2 L1854.2,375.2 L1854.0,376.3 L1853.9,377.4 L1853.7,378.5 L1853.6,379.6 L1853.4,380.7 L1853.3,381.8 L1853.1,382.9 L1852.9,384.0 L1852.7,385.0 L1852.5,386.1 L1852.3,387.2 L1852.1,388.3 L1851.9,389.4 L1851.7,390.4 L1851.4,391.5 L1851.2,392.6 L1850.9,393.6 L1850.7,394.7 L1850.4,395.8 L1850.1,396.8 L1849.9,397.9 L1849.6,399.0 L1849.3,400.0 L1849.0,401.1 L1848.7,402.1 L1848.3,403.2 L1848.0,404.2 L1847.7,405.3 L1847.3,406.3 L1847.0,407.4 L1846.6,408.4 L1846.3,409.4 L1845.9,410.5 L1845.5,411.5 L1845.1,412.5 L1844.7,413.5 L1844.3,414.6 L1843.9,415.6 L1843.5,416.6 L1843.1,417.6 L1842.6,418.6 L1842.2,419.6 L1841.7,420.6 L1841.3,421.6 L1840.8,422.6 L1840.3,423.6 L1839.9,424.6 L1839.4,425.6 L1838.9,426.6 L1838.4,427.5 L1837.9,428.5 L1837.4,429.5 L1836.8,430.5 L1836.3,431.4 L1835.8,432.4 L1835.2,433.3 L1834.7,434.3 L1834.1,435.2 L1833.5,436.2 L1833.0,437.1 L1832.4,438.0 L1831.8,439.0 L1831.2,439.9 L1830.6,440.8 L1830.0,441.7 L1829.4,442.6 L1828.8,443.5 L1828.1,444.4 L1827.5,445.3 L1826.9,446.2 L1826.2,447.1 L1825.6,448.0 L1824.9,448.9 L1824.2,449.7 L1823.6,450.6 L1822.9,451.4 L1822.2,452.3 L1821.5,453.2 L1820.8,454.0 L1820.1,454.8 L1819.4,455.7 L1818.7,456.5 L1817.9,457.3 L1817.2,458.1 L1816.5,459.0 L1815.7,459.8 L1815.0,460.6 L1814.2,461.4 L1813.5,462.2 L1812.7,462.9 L1811.9,463.7 L1811.1,464.5 L1810.4,465.3 L1809.6,466.0 L1808.8,466.8 L1808.0,467.5 L1807.2,468.3 L1806.4,469.0 L1805.5,469.7 L1804.7,470.5 L1803.9,471.2 L1803.1,471.9 L1802.2,472.6 L1801.4,473.3 L1800.5,474.0 L1799.7,474.7 L1798.8,475.4 L1798.0,476.0 L1797.1,476.7 L1796.2,477.4 L1795.3,478.0 L1794.5,478.7 L1793.6,479.3 L1792.7,480.0 L1791.8,480.6 L1790.9,481.2 L1790.0,481.8 L1789.1,482.4 L1788.1,483.0 L1787.2,483.6 L1786.3,484.2 L1785.4,484.8 L1784.4,485.4 L1783.5,485.9 L1782.6,486.5 L1781.6,487.1 L1780.7,487.6 L1779.7,488.1 L1778.7,488.7 L1777.8,489.2 L1776.8,489.7 L1775.9,490.2 L1774.9,490.7 L1773.9,491.2 L1772.9,491.7 L1771.9,492.2 L1771.0,492.7 L1770.0,493.1 L1769.0,493.6 L1768.0,494.0 L1767.0,494.5 L1766.0,494.9 L1765.0,495.4 L1763.9,495.8 L1762.9,496.2 L1761.9,496.6 L1760.9,497.0 L1759.9,497.4 L1758.8,497.8 L1757.8,498.1 L1756.8,498.5 L1755.8,498.9 L1754.7,499.2 L1753.7,499.6 L1752.6,499.9 L1751.6,500.2 L1750.5,500.6 L1749.5,500.9 L1748.4,501.2 L1747.4,501.5 L1746.3,501.8 L1745.3,502.1 L1744.2,502.3 L1743.2,502.6 L1742.1,502.9 L1741.0,503.1 L1740.0,503.3 L1738.9,503.6 L1737.8,503.8 L1736.7,504.0 L1735.7,504.2 L1734.6,504.4 L1733.5,504.6 L1732.4,504.8 L1731.4,505.0 L1730.3,505.2 L1729.2,505.3 L1728.1,505.5 L1727.0,505.6 L1725.9,505.8 L1724.9,505.9 L1723.8,506.0 L1722.7,506.1 L1721.6,506.2 L1720.5,506.3 L1719.4,506.4 L1718.3,506.5 L1717.2,506.6 L1716.1,506.7 L1715.1,506.7 L1714.0,506.8 L1712.9,506.8 L1711.8,506.8 L1710.7,506.9 L1709.6,506.9 L1708.5,506.9 L1707.4,506.9 L1707.4,504.7 L1708.5,504.7 L1709.6,504.7 L1710.6,504.7 L1711.7,504.6 L1712.8,504.6 L1713.9,504.6 L1714.9,504.5 L1716.0,504.4 L1717.1,504.4 L1718.2,504.3 L1719.2,504.2 L1720.3,504.1 L1721.4,504.0 L1722.5,503.9 L1723.5,503.8 L1724.6,503.7 L1725.7,503.5 L1726.7,503.4 L1727.8,503.3 L1728.9,503.1 L1729.9,502.9 L1731.0,502.8 L1732.1,502.6 L1733.1,502.4 L1734.2,502.2 L1735.2,502.0 L1736.3,501.8 L1737.3,501.6 L1738.4,501.3 L1739.4,501.1 L1740.5,500.9 L1741.5,500.6 L1742.6,500.3 L1743.6,500.1 L1744.7,499.8 L1745.7,499.5 L1746.8,499.2 L1747.8,498.9 L1748.8,498.6 L1749.9,498.3 L1750.9,498.0 L1751.9,497.7 L1752.9,497.3 L1754.0,497.0 L1755.0,496.6 L1756.0,496.3 L1757.0,495.9 L1758.0,495.5 L1759.0,495.2 L1760.0,494.8 L1761.0,494.4 L1762.0,494.0 L1763.0,493.6 L1764.0,493.1 L1765.0,492.7 L1766.0,492.3 L1767.0,491.8 L1768.0,491.4 L1768.9,490.9 L1769.9,490.5 L1770.9,490.0 L1771.8,489.5 L1772.8,489.1 L1773.8,488.6 L1774.7,488.1 L1775.7,487.6 L1776.6,487.0 L1777.6,486.5 L1778.5,486.0 L1779.4,485.5 L1780.4,484.9 L1781.3,484.4 L1782.2,483.8 L1783.1,483.3 L1784.0,482.7 L1785.0,482.1 L1785.9,481.5 L1786.8,481.0 L1787.7,480.4 L1788.6,479.8 L1789.4,479.1 L1790.3,478.5 L1791.2,477.9 L1792.1,477.3 L1793.0,476.6 L1793.8,476.0 L1794.7,475.4 L1795.5,474.7 L1796.4,474.0 L1797.2,473.4 L1798.1,472.7 L1798.9,472.0 L1799.7,471.3 L1800.6,470.6 L1801.4,470.0 L1802.2,469.2 L1803.0,468.5 L1803.8,467.8 L1804.6,467.1 L1805.4,466.4 L1806.2,465.6 L1807.0,464.9 L1807.8,464.2 L1808.5,463.4 L1809.3,462.6 L1810.1,461.9 L1810.8,461.1 L1811.6,460.3 L1812.3,459.6 L1813.1,458.8 L1813.8,458.0 L1814.5,457.2 L1815.2,456.4 L1815.9,455.6 L1816.7,454.8 L1817.4,454.0 L1818.1,453.1 L1818.7,452.3 L1819.4,451.5 L1820.1,450.6 L1820.8,449.8 L1821.4,448.9 L1822.1,448.1 L1822.7,447.2 L1823.4,446.4 L1824.0,445.5 L1824.7,444.6 L1825.3,443.8 L1825.9,442.9 L1826.5,442.0 L1827.1,441.1 L1827.7,440.2 L1828.3,439.3 L1828.9,438.4 L1829.5,437.5 L1830.1,436.6 L1830.6,435.7 L1831.2,434.7 L1831.7,433.8 L1832.3,432.9 L1832.8,432.0 L1833.4,431.0 L1833.9,430.1 L1834.4,429.1 L1834.9,428.2 L1835.4,427.2 L1835.9,426.3 L1836.4,425.3 L1836.9,424.4 L1837.4,423.4 L1837.8,422.4 L1838.3,421.4 L1838.7,420.5 L1839.2,419.5 L1839.6,418.5 L1840.0,417.5 L1840.5,416.5 L1840.9,415.5 L1841.3,414.5 L1841.7,413.5 L1842.1,412.5 L1842.5,411.5 L1842.9,410.5 L1843.2,409.5 L1843.6,408.5 L1843.9,407.5 L1844.3,406.5 L1844.6,405.4 L1845.0,404.4 L1845.3,403.4 L1845.6,402.4 L1845.9,401.3 L1846.2,400.3 L1846.5,399.2 L1846.8,398.2 L1847.1,397.2 L1847.4,396.1 L1847.6,395.1 L1847.9,394.0 L1848.1,393.0 L1848.4,391.9 L1848.6,390.9 L1848.8,389.8 L1849.0,388.8 L1849.3,387.7 L1849.5,386.7 L1849.6,385.6 L1849.8,384.5 L1850.0,383.5 L1850.2,382.4 L1850.3,381.4 L1850.5,380.3 L1850.6,379.2 L1850.8,378.1 L1850.9,377.1 L1851.0,376.0 L1851.1,374.9 L1851.3,373.9 L1851.4,372.8 L1851.4,372.6 L1851.4,372.5 L1851.4,372.3 L1851.4,372.2 L1851.4,372.0 L1851.4,371.8 L1851.4,371.7 L1851.5,371.5 L1851.5,371.4 L1851.5,371.2 L1851.5,371.0 L1851.5,370.9 L1851.5,370.7 L1851.5,370.6 L1851.5,370.4 L1851.6,370.2 L1851.6,370.1 L1851.6,369.9 L1851.6,369.8 L1851.6,369.6 L1851.6,369.5 L1851.6,369.3 L1851.6,369.1 L1851.6,369.0 L1851.6,368.8 L1851.7,368.7 L1851.7,368.5 L1851.7,368.3 L1851.7,368.2 L1851.7,368.0 L1851.7,367.9 L1851.7,367.7 L1851.7,367.5 L1851.7,367.4 L1851.7,367.2 L1851.7,367.1 L1851.7,366.9 L1851.8,366.7 L1851.8,366.6 L1851.8,366.4 L1851.8,366.3 L1851.8,366.1 L1851.8,365.9 L1851.8,365.8 L1851.8,365.6 L1851.8,365.5 L1851.8,365.3 L1851.8,365.1 L1851.8,365.0 L1851.8,364.8 L1851.8,364.7 L1851.8,364.5 L1851.8,364.3 L1851.8,364.2 L1851.8,364.0 L1851.9,363.9 L1851.9,363.7 L1851.9,363.6 L1851.9,363.4 L1851.9,363.2 L1851.9,363.1 L1851.9,362.9 L1851.9,362.8 L1851.9,362.6 L1851.9,362.4 L1851.9,362.3 L1851.9,362.1 L1851.9,362.0 L1851.9,361.8 L1851.9,361.6 L1851.9,361.5 L1851.9,361.3 L1851.9,361.2 L1851.9,361.0 L1851.9,360.8 L1851.9,360.7 L1851.9,360.5 L1851.9,360.4 L1851.9,360.2Z" fill="#CB181D"/>
<g fill="#000">
<text transform="translate(1707.30,82.20) scale(1,1.040)" font-size="31.80" text-anchor="end">100</text>
<text transform="translate(1707.30,118.10) scale(1,1.040)" font-size="31.80" text-anchor="end">75</text>
<text transform="translate(1707.30,154.00) scale(1,1.040)" font-size="31.80" text-anchor="end">50</text>
<text transform="translate(1707.30,190.60) scale(1,1.040)" font-size="31.80" text-anchor="end">25</text>
<text transform="translate(1707.30,226.20) scale(1,1.040)" font-size="31.80" text-anchor="end">0</text>
<text transform="translate(1708.30,514.50) scale(1,1.040)" font-size="31.80" text-anchor="end">0</text>
<text transform="translate(1708.30,551.40) scale(1,1.040)" font-size="31.80" text-anchor="end">25</text>
<text transform="translate(1708.30,587.20) scale(1,1.040)" font-size="31.80" text-anchor="end">50</text>
<text transform="translate(1708.30,623.30) scale(1,1.040)" font-size="31.80" text-anchor="end">75</text>
<text transform="translate(1708.30,659.60) scale(1,1.040)" font-size="31.80" text-anchor="end">100</text>
<text transform="translate(1741.00,561.80) scale(1,1.040)" font-size="31.80">Variance</text>
<text transform="translate(1740.20,598.60) scale(1,1.040)" font-size="31.80">explained (%)</text>
<text transform="translate(1691.00,275.80) scale(1,1.040)" font-size="27.00">Cellular</text>
<text transform="translate(1691.40,307.30) scale(1,1.040)" font-size="27.00">composition</text>
<text transform="translate(1576.80,330.30) scale(1,1.040)" font-size="27.00">Intrinsic</text>
<text transform="translate(1709.40,411.20) scale(1,1.040)" font-size="27.00">Exposures</text>
<text transform="translate(1600.40,446.70) scale(1,1.040)" font-size="27.00">Genetics</text>
<text x="1431.6" y="39.6" font-size="54" font-weight="bold">c</text>
</g>
</svg>
</body>
</html>
